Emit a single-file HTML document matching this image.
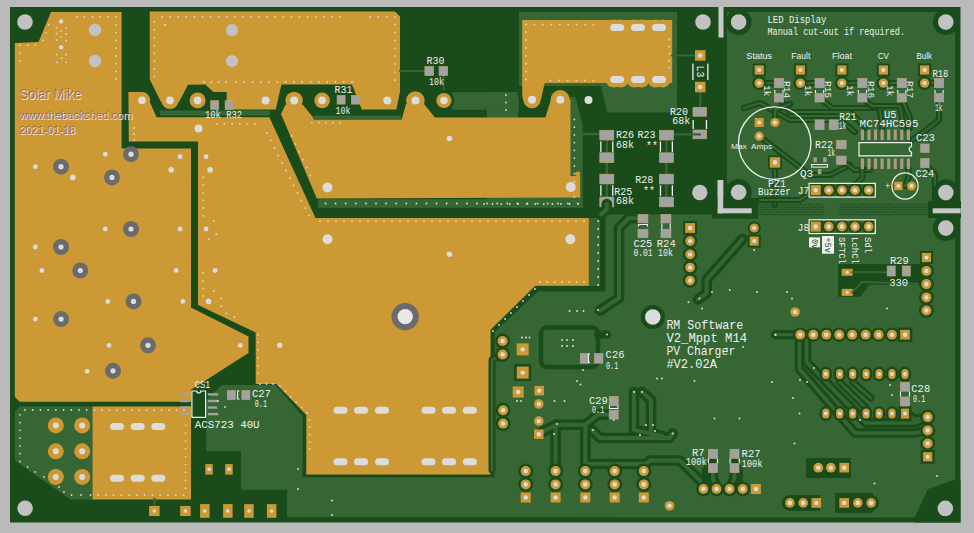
<!DOCTYPE html>
<html><head><meta charset="utf-8"><style>
html,body{margin:0;padding:0;background:#bababa;width:974px;height:533px;overflow:hidden}
svg{display:block}
text{white-space:pre}
</style></head><body><svg width="974" height="533" viewBox="0 0 974 533"><rect x="0.0" y="0.0" width="974.0" height="533.0" fill="#bababa" /><rect x="10.0" y="7.0" width="950.5" height="515.5" fill="#1a4b1b" /><polygon points="727.0,12.0 955.0,12.0 955.0,216.0 727.0,216.0" fill="#356634" /><polygon points="605.5,214.5 955.0,214.5 955.0,479.5 927.7,489.5 914.6,517.5 287.1,517.2 287.1,489.8 241.0,489.8 241.0,451.1 206.1,451.1 206.1,400.0 221.9,385.0 275.4,385.0 302.6,416.0 302.6,477.3 494.5,477.3 494.5,332.0 538.0,291.5 605.5,291.5" fill="#356634" /><polygon points="519.0,12.0 677.0,12.0 677.0,112.5 607.5,112.5 600.8,86.0 519.0,86.0" fill="#356634" /><polygon points="487.0,92.0 517.0,92.0 519.0,100.0 518.0,117.5 545.4,117.5 551.0,99.0 570.5,97.0 575.4,97.0 582.7,125.0 582.7,207.0 487.0,207.0" fill="#356634" /><polygon points="487.0,218.0 600.0,218.0 600.0,286.0 535.0,286.0 491.0,330.0 487.0,334.0" fill="#356634" /><polygon points="19.5,406.5 92.5,406.5 92.5,499.5 70.4,499.5 14.8,460.6 14.8,411.5" fill="#356634" /><polygon points="51.0,12.0 121.6,12.0 121.6,148.5 191.0,148.5 191.0,307.6 248.5,336.5 248.5,353.1 191.0,389.7 191.0,401.8 19.5,401.8 14.8,396.7 14.8,43.0 38.5,42.0" fill="#cd9934" /><polygon points="149.7,11.6 395.0,11.6 400.0,16.6 400.0,91.5 396.4,109.5 361.8,109.5 352.0,84.6 281.4,84.6 275.8,109.5 226.7,109.5 226.7,92.0 213.4,92.0 205.3,84.6 188.0,84.7 179.0,102.0 161.0,102.0 149.8,79.6" fill="#cd9934" /><circle cx="170.0" cy="100.4" r="8.6" fill="#cd9934" /><polygon points="128.4,92.0 141.9,92.0 150.4,103.2 156.6,117.3 269.4,117.3 315.5,218.0 588.8,218.0 588.8,285.8 535.3,285.8 490.6,329.4 490.6,474.4 306.3,474.4 306.3,415.0 276.3,384.0 255.7,384.0 255.7,332.5 198.0,305.0 198.0,141.6 128.8,141.6" fill="#cd9934" /><circle cx="141.9" cy="100.4" r="8.4" fill="#cd9934" /><polygon points="281.0,114.0 285.4,104.7 302.8,104.7 314.8,119.4 401.7,119.5 406.0,104.0 424.0,104.0 435.0,117.5 545.4,117.5 551.0,99.4 570.5,99.4 570.5,176.0 580.2,176.0 580.2,197.5 316.8,198.5" fill="#cd9934" /><circle cx="294.1" cy="100.4" r="8.7" fill="#cd9934" /><circle cx="415.4" cy="100.5" r="9.3" fill="#cd9934" /><circle cx="560.1" cy="99.4" r="9.4" fill="#cd9934" /><circle cx="577.8" cy="174.1" r="2.5" fill="#cd9934" /><polygon points="522.2,20.0 672.2,20.0 672.2,83.1 544.7,83.1 541.0,99.6 523.0,99.6 522.2,95.0" fill="#cd9934" /><circle cx="532.0" cy="99.6" r="8.7" fill="#cd9934" /><polygon points="92.5,406.5 191.0,406.5 191.0,499.5 92.5,499.5" fill="#cd9934" /><polyline points="400.0,71.0 425.0,71.0" fill="none" stroke="#356634" stroke-width="2.2" stroke-linejoin="round" stroke-linecap="round" /><polyline points="443.6,71.0 443.6,93.0" fill="none" stroke="#356634" stroke-width="2.2" stroke-linejoin="round" stroke-linecap="round" /><polygon points="452.0,92.3 500.0,92.3 500.0,109.7 452.0,109.7" fill="#356634" rx="4"/><circle cx="443.9" cy="100.5" r="10.5" fill="#1a4b1b" /><rect x="160.0" y="110.5" width="110.0" height="5.0" fill="#356634" /><rect x="313.0" y="115.5" width="88.0" height="4.0" fill="#356634" /><circle cx="25.0" cy="22.0" r="7.8" fill="#c2c2c2" /><circle cx="95.0" cy="30.0" r="6.2" fill="#c2c2c2" /><circle cx="95.0" cy="61.0" r="6.2" fill="#c2c2c2" /><circle cx="232.0" cy="30.0" r="6.1" fill="#c2c2c2" /><circle cx="232.0" cy="61.0" r="6.1" fill="#c2c2c2" /><circle cx="76.8" cy="16.9" r="0.9" fill="#d8d8d8" /><circle cx="84.4" cy="16.9" r="0.9" fill="#d8d8d8" /><circle cx="92.5" cy="16.9" r="0.9" fill="#d8d8d8" /><circle cx="100.0" cy="16.9" r="0.9" fill="#d8d8d8" /><circle cx="108.0" cy="16.9" r="0.9" fill="#d8d8d8" /><circle cx="115.8" cy="16.9" r="0.9" fill="#d8d8d8" /><circle cx="115.8" cy="24.8" r="0.9" fill="#d8d8d8" /><circle cx="115.8" cy="32.6" r="0.9" fill="#d8d8d8" /><circle cx="115.8" cy="40.3" r="0.9" fill="#d8d8d8" /><circle cx="115.8" cy="48.1" r="0.9" fill="#d8d8d8" /><circle cx="115.8" cy="55.9" r="0.9" fill="#d8d8d8" /><circle cx="115.8" cy="63.6" r="0.9" fill="#d8d8d8" /><circle cx="115.8" cy="71.4" r="0.9" fill="#d8d8d8" /><circle cx="115.8" cy="79.0" r="0.9" fill="#d8d8d8" /><circle cx="48.6" cy="24.8" r="0.9" fill="#d8d8d8" /><circle cx="45.9" cy="32.6" r="0.9" fill="#d8d8d8" /><circle cx="43.2" cy="40.3" r="0.9" fill="#d8d8d8" /><circle cx="19.9" cy="45.2" r="0.9" fill="#d8d8d8" /><circle cx="27.8" cy="45.2" r="0.9" fill="#d8d8d8" /><circle cx="35.4" cy="45.2" r="0.9" fill="#d8d8d8" /><circle cx="19.9" cy="53.2" r="0.9" fill="#d8d8d8" /><circle cx="19.9" cy="60.9" r="0.9" fill="#d8d8d8" /><circle cx="61.1" cy="21.4" r="2.2" fill="#d8d8d8" /><circle cx="61.1" cy="47.3" r="2.2" fill="#d8d8d8" /><circle cx="56.5" cy="27.8" r="0.9" fill="#d8d8d8" /><circle cx="66.2" cy="27.8" r="0.9" fill="#d8d8d8" /><circle cx="61.1" cy="30.9" r="0.9" fill="#d8d8d8" /><circle cx="56.5" cy="33.8" r="0.9" fill="#d8d8d8" /><circle cx="66.2" cy="33.8" r="0.9" fill="#d8d8d8" /><circle cx="61.1" cy="36.8" r="0.9" fill="#d8d8d8" /><circle cx="56.5" cy="40.0" r="0.9" fill="#d8d8d8" /><circle cx="66.2" cy="40.5" r="0.9" fill="#d8d8d8" /><circle cx="56.5" cy="54.5" r="0.9" fill="#d8d8d8" /><circle cx="66.2" cy="54.5" r="0.9" fill="#d8d8d8" /><circle cx="61.6" cy="58.2" r="0.9" fill="#d8d8d8" /><circle cx="57.0" cy="62.3" r="0.9" fill="#d8d8d8" /><circle cx="66.2" cy="62.3" r="0.9" fill="#d8d8d8" /><circle cx="154.4" cy="21.9" r="0.9" fill="#d8d8d8" /><circle cx="154.4" cy="29.9" r="0.9" fill="#d8d8d8" /><circle cx="154.4" cy="37.6" r="0.9" fill="#d8d8d8" /><circle cx="154.4" cy="45.6" r="0.9" fill="#d8d8d8" /><circle cx="154.4" cy="53.3" r="0.9" fill="#d8d8d8" /><circle cx="154.4" cy="61.1" r="0.9" fill="#d8d8d8" /><circle cx="154.4" cy="68.9" r="0.9" fill="#d8d8d8" /><circle cx="154.4" cy="76.5" r="0.9" fill="#d8d8d8" /><circle cx="162.0" cy="16.9" r="0.9" fill="#d8d8d8" /><circle cx="170.1" cy="16.9" r="0.9" fill="#d8d8d8" /><circle cx="178.2" cy="16.9" r="0.9" fill="#d8d8d8" /><circle cx="186.3" cy="16.9" r="0.9" fill="#d8d8d8" /><circle cx="194.4" cy="16.9" r="0.9" fill="#d8d8d8" /><circle cx="202.5" cy="16.9" r="0.9" fill="#d8d8d8" /><circle cx="210.5" cy="16.9" r="0.9" fill="#d8d8d8" /><circle cx="218.6" cy="16.9" r="0.9" fill="#d8d8d8" /><circle cx="226.7" cy="16.9" r="0.9" fill="#d8d8d8" /><circle cx="234.8" cy="16.9" r="0.9" fill="#d8d8d8" /><circle cx="242.9" cy="16.9" r="0.9" fill="#d8d8d8" /><circle cx="251.0" cy="16.9" r="0.9" fill="#d8d8d8" /><circle cx="259.1" cy="16.9" r="0.9" fill="#d8d8d8" /><circle cx="267.2" cy="16.9" r="0.9" fill="#d8d8d8" /><circle cx="275.3" cy="16.9" r="0.9" fill="#d8d8d8" /><circle cx="283.4" cy="16.9" r="0.9" fill="#d8d8d8" /><circle cx="291.5" cy="16.9" r="0.9" fill="#d8d8d8" /><circle cx="299.5" cy="16.9" r="0.9" fill="#d8d8d8" /><circle cx="307.6" cy="16.9" r="0.9" fill="#d8d8d8" /><circle cx="315.7" cy="16.9" r="0.9" fill="#d8d8d8" /><circle cx="323.8" cy="16.9" r="0.9" fill="#d8d8d8" /><circle cx="331.9" cy="16.9" r="0.9" fill="#d8d8d8" /><circle cx="340.0" cy="16.9" r="0.9" fill="#d8d8d8" /><circle cx="370.0" cy="16.9" r="0.9" fill="#d8d8d8" /><circle cx="378.3" cy="16.9" r="0.9" fill="#d8d8d8" /><circle cx="386.7" cy="16.9" r="0.9" fill="#d8d8d8" /><circle cx="395.0" cy="16.9" r="0.9" fill="#d8d8d8" /><circle cx="395.0" cy="24.5" r="0.9" fill="#d8d8d8" /><circle cx="395.0" cy="32.4" r="0.9" fill="#d8d8d8" /><circle cx="395.0" cy="40.4" r="0.9" fill="#d8d8d8" /><circle cx="395.0" cy="48.3" r="0.9" fill="#d8d8d8" /><circle cx="395.0" cy="56.2" r="0.9" fill="#d8d8d8" /><circle cx="395.0" cy="64.1" r="0.9" fill="#d8d8d8" /><circle cx="395.0" cy="72.1" r="0.9" fill="#d8d8d8" /><circle cx="395.0" cy="80.0" r="0.9" fill="#d8d8d8" /><circle cx="165.0" cy="25.0" r="0.9" fill="#d8d8d8" /><circle cx="165.0" cy="25.0" r="0.9" fill="#d8d8d8" /><circle cx="204.0" cy="82.0" r="0.9" fill="#d8d8d8" /><circle cx="211.3" cy="82.0" r="0.9" fill="#d8d8d8" /><circle cx="218.7" cy="82.0" r="0.9" fill="#d8d8d8" /><circle cx="226.0" cy="82.0" r="0.9" fill="#d8d8d8" /><circle cx="236.0" cy="82.0" r="0.9" fill="#d8d8d8" /><circle cx="244.3" cy="82.0" r="0.9" fill="#d8d8d8" /><circle cx="252.6" cy="82.0" r="0.9" fill="#d8d8d8" /><circle cx="260.9" cy="82.0" r="0.9" fill="#d8d8d8" /><circle cx="269.1" cy="82.0" r="0.9" fill="#d8d8d8" /><circle cx="277.4" cy="82.0" r="0.9" fill="#d8d8d8" /><circle cx="285.7" cy="82.0" r="0.9" fill="#d8d8d8" /><circle cx="294.0" cy="82.0" r="0.9" fill="#d8d8d8" /><circle cx="302.3" cy="82.0" r="0.9" fill="#d8d8d8" /><circle cx="310.6" cy="82.0" r="0.9" fill="#d8d8d8" /><circle cx="318.9" cy="82.0" r="0.9" fill="#d8d8d8" /><circle cx="327.1" cy="82.0" r="0.9" fill="#d8d8d8" /><circle cx="335.4" cy="82.0" r="0.9" fill="#d8d8d8" /><circle cx="343.7" cy="82.0" r="0.9" fill="#d8d8d8" /><circle cx="352.0" cy="82.0" r="0.9" fill="#d8d8d8" /><circle cx="142.0" cy="100.4" r="0.0" fill="#cd9934" /><circle cx="142.0" cy="100.4" r="3.8" fill="#dcdcdc" /><circle cx="170.0" cy="100.4" r="0.0" fill="#cd9934" /><circle cx="170.0" cy="100.4" r="3.8" fill="#dcdcdc" /><circle cx="197.6" cy="100.4" r="8.0" fill="#cd9934" /><circle cx="197.6" cy="100.4" r="3.8" fill="#dcdcdc" /><circle cx="322.1" cy="100.4" r="7.8" fill="#cd9934" /><circle cx="322.1" cy="100.4" r="3.8" fill="#dcdcdc" /><circle cx="265.7" cy="100.5" r="4.0" fill="#dcdcdc" /><circle cx="294.1" cy="100.4" r="4.0" fill="#dcdcdc" /><circle cx="387.3" cy="100.5" r="4.0" fill="#dcdcdc" /><circle cx="415.5" cy="100.5" r="4.0" fill="#dcdcdc" /><circle cx="443.9" cy="100.5" r="7.6" fill="#cd9934" /><circle cx="443.9" cy="100.5" r="3.8" fill="#dcdcdc" /><circle cx="532.1" cy="99.7" r="4.0" fill="#dcdcdc" /><circle cx="560.3" cy="99.7" r="4.0" fill="#dcdcdc" /><circle cx="588.5" cy="100.0" r="4.0" fill="#dcdcdc" /><circle cx="198.5" cy="128.5" r="4.0" fill="#dcdcdc" /><circle cx="312.0" cy="122.6" r="0.9" fill="#d8d8d8" /><circle cx="319.0" cy="122.6" r="0.9" fill="#d8d8d8" /><circle cx="326.0" cy="122.6" r="0.9" fill="#d8d8d8" /><circle cx="333.0" cy="122.6" r="0.9" fill="#d8d8d8" /><circle cx="340.0" cy="122.6" r="0.9" fill="#d8d8d8" /><circle cx="216.8" cy="123.7" r="0.9" fill="#d8d8d8" /><circle cx="224.4" cy="123.7" r="0.9" fill="#d8d8d8" /><circle cx="232.1" cy="123.7" r="0.9" fill="#d8d8d8" /><circle cx="239.7" cy="123.7" r="0.9" fill="#d8d8d8" /><circle cx="247.4" cy="123.7" r="0.9" fill="#d8d8d8" /><circle cx="255.0" cy="123.7" r="0.9" fill="#d8d8d8" /><rect x="210.7" y="100.7" width="8.0" height="8.7" fill="#a2a2a2" stroke="#bfa477" stroke-width="0.7"/><rect x="225.1" y="100.7" width="8.0" height="8.7" fill="#a2a2a2" stroke="#bfa477" stroke-width="0.7"/><rect x="337.1" y="95.4" width="8.0" height="8.7" fill="#a2a2a2" stroke="#bfa477" stroke-width="0.7"/><rect x="351.4" y="95.4" width="8.0" height="8.7" fill="#a2a2a2" stroke="#bfa477" stroke-width="0.7"/><rect x="424.9" y="66.5" width="8.5" height="9.0" fill="#a2a2a2" stroke="#bfa477" stroke-width="0.7"/><rect x="439.1" y="66.5" width="8.5" height="9.0" fill="#a2a2a2" stroke="#bfa477" stroke-width="0.7"/><text x="205.0" y="117.6" font-size="10.0" fill="#f0f0f0" font-family="Liberation Mono"  textLength="37.1" lengthAdjust="spacingAndGlyphs">10k R32</text><text x="334.5" y="92.8" font-size="10.0" fill="#f0f0f0" font-family="Liberation Mono" >R31</text><text x="335.5" y="113.5" font-size="10.0" fill="#f0f0f0" font-family="Liberation Mono"  textLength="14.9" lengthAdjust="spacingAndGlyphs">10k</text><text x="426.5" y="63.6" font-size="10.0" fill="#f0f0f0" font-family="Liberation Mono" >R30</text><text x="429.0" y="84.8" font-size="10.0" fill="#f0f0f0" font-family="Liberation Mono"  textLength="14.9" lengthAdjust="spacingAndGlyphs">10k</text><text x="20.2" y="99.9" font-size="14.0" fill="#f6ecea" font-family="Liberation Sans" textLength="61.8" lengthAdjust="spacingAndGlyphs">Solar Mike</text><text x="19.4" y="99.2" font-size="14.0" fill="#6a3a5a" font-family="Liberation Sans" textLength="61.8" lengthAdjust="spacingAndGlyphs" opacity="0.55">Solar Mike</text><text x="20.2" y="119.9" font-size="11.7" fill="#f6ecea" font-family="Liberation Sans" textLength="112.9" lengthAdjust="spacingAndGlyphs">www.thebackshed.com</text><text x="19.4" y="119.2" font-size="11.7" fill="#6a3a5a" font-family="Liberation Sans" textLength="112.9" lengthAdjust="spacingAndGlyphs" opacity="0.55">www.thebackshed.com</text><text x="20.2" y="135.0" font-size="11.8" fill="#f6ecea" font-family="Liberation Sans" textLength="55.8" lengthAdjust="spacingAndGlyphs">2021-01-18</text><text x="19.4" y="134.3" font-size="11.8" fill="#6a3a5a" font-family="Liberation Sans" textLength="55.8" lengthAdjust="spacingAndGlyphs" opacity="0.55">2021-01-18</text><circle cx="61.0" cy="166.7" r="8.0" fill="#6b6b6b" /><circle cx="61.0" cy="166.7" r="2.6" fill="#dcdcdc" /><circle cx="112.0" cy="177.4" r="8.0" fill="#6b6b6b" /><circle cx="112.0" cy="177.4" r="2.6" fill="#dcdcdc" /><circle cx="131.0" cy="154.2" r="8.0" fill="#6b6b6b" /><circle cx="131.0" cy="154.2" r="2.6" fill="#dcdcdc" /><circle cx="131.0" cy="229.0" r="8.0" fill="#6b6b6b" /><circle cx="131.0" cy="229.0" r="2.6" fill="#dcdcdc" /><circle cx="61.0" cy="247.0" r="8.0" fill="#6b6b6b" /><circle cx="61.0" cy="247.0" r="2.6" fill="#dcdcdc" /><circle cx="80.3" cy="270.5" r="8.0" fill="#6b6b6b" /><circle cx="80.3" cy="270.5" r="2.6" fill="#dcdcdc" /><circle cx="133.5" cy="301.4" r="8.0" fill="#6b6b6b" /><circle cx="133.5" cy="301.4" r="2.6" fill="#dcdcdc" /><circle cx="61.1" cy="319.1" r="8.0" fill="#6b6b6b" /><circle cx="61.1" cy="319.1" r="2.6" fill="#dcdcdc" /><circle cx="148.0" cy="345.3" r="8.0" fill="#6b6b6b" /><circle cx="148.0" cy="345.3" r="2.6" fill="#dcdcdc" /><circle cx="113.0" cy="370.8" r="8.0" fill="#6b6b6b" /><circle cx="113.0" cy="370.8" r="2.6" fill="#dcdcdc" /><circle cx="35.4" cy="166.7" r="2.4" fill="#dcdcdc" /><circle cx="72.8" cy="177.4" r="2.8" fill="#dcdcdc" /><circle cx="105.3" cy="154.2" r="2.4" fill="#dcdcdc" /><circle cx="180.1" cy="156.7" r="2.4" fill="#dcdcdc" /><circle cx="171.2" cy="169.7" r="2.8" fill="#dcdcdc" /><circle cx="206.1" cy="156.7" r="2.4" fill="#dcdcdc" /><circle cx="210.1" cy="169.7" r="2.8" fill="#dcdcdc" /><circle cx="105.3" cy="229.0" r="2.4" fill="#dcdcdc" /><circle cx="180.1" cy="229.0" r="2.4" fill="#dcdcdc" /><circle cx="206.1" cy="229.0" r="2.4" fill="#dcdcdc" /><circle cx="35.4" cy="247.0" r="2.4" fill="#dcdcdc" /><circle cx="41.9" cy="270.5" r="2.4" fill="#dcdcdc" /><circle cx="176.1" cy="270.5" r="2.4" fill="#dcdcdc" /><circle cx="215.1" cy="270.5" r="2.4" fill="#dcdcdc" /><circle cx="107.8" cy="301.4" r="2.4" fill="#dcdcdc" /><circle cx="182.9" cy="301.4" r="2.4" fill="#dcdcdc" /><circle cx="208.6" cy="301.4" r="2.8" fill="#dcdcdc" /><circle cx="35.4" cy="319.1" r="2.4" fill="#dcdcdc" /><circle cx="109.0" cy="345.3" r="2.4" fill="#dcdcdc" /><circle cx="240.3" cy="345.3" r="2.4" fill="#dcdcdc" /><circle cx="87.1" cy="371.3" r="2.4" fill="#dcdcdc" /><circle cx="203.4" cy="177.4" r="0.9" fill="#d8d8d8" /><circle cx="203.4" cy="184.9" r="0.9" fill="#d8d8d8" /><circle cx="203.4" cy="192.9" r="0.9" fill="#d8d8d8" /><circle cx="203.4" cy="200.4" r="0.9" fill="#d8d8d8" /><circle cx="203.4" cy="207.9" r="0.9" fill="#d8d8d8" /><circle cx="203.4" cy="215.8" r="0.9" fill="#d8d8d8" /><circle cx="213.8" cy="220.8" r="0.9" fill="#d8d8d8" /><circle cx="216.3" cy="234.0" r="0.9" fill="#d8d8d8" /><circle cx="208.8" cy="239.0" r="0.9" fill="#d8d8d8" /><circle cx="203.3" cy="273.0" r="0.9" fill="#d8d8d8" /><circle cx="203.3" cy="281.0" r="0.9" fill="#d8d8d8" /><circle cx="203.3" cy="288.5" r="0.9" fill="#d8d8d8" /><circle cx="203.3" cy="296.0" r="0.9" fill="#d8d8d8" /><circle cx="213.8" cy="291.0" r="0.9" fill="#d8d8d8" /><circle cx="221.3" cy="298.4" r="0.9" fill="#d8d8d8" /><circle cx="221.3" cy="306.0" r="0.9" fill="#d8d8d8" /><circle cx="226.5" cy="313.4" r="0.9" fill="#d8d8d8" /><circle cx="234.5" cy="317.0" r="0.9" fill="#d8d8d8" /><circle cx="134.0" cy="128.0" r="0.9" fill="#d8d8d8" /><circle cx="134.0" cy="134.0" r="0.9" fill="#d8d8d8" /><circle cx="134.0" cy="140.0" r="0.9" fill="#d8d8d8" /><circle cx="266.8" cy="133.0" r="0.9" fill="#d8d8d8" /><circle cx="270.6" cy="140.5" r="0.9" fill="#d8d8d8" /><circle cx="274.4" cy="148.0" r="0.9" fill="#d8d8d8" /><circle cx="278.3" cy="155.5" r="0.9" fill="#d8d8d8" /><circle cx="282.1" cy="163.0" r="0.9" fill="#d8d8d8" /><circle cx="286.0" cy="170.5" r="0.9" fill="#d8d8d8" /><circle cx="289.8" cy="178.0" r="0.9" fill="#d8d8d8" /><circle cx="293.6" cy="185.5" r="0.9" fill="#d8d8d8" /><circle cx="297.5" cy="193.0" r="0.9" fill="#d8d8d8" /><circle cx="301.3" cy="200.5" r="0.9" fill="#d8d8d8" /><circle cx="305.2" cy="208.0" r="0.9" fill="#d8d8d8" /><circle cx="309.0" cy="215.5" r="0.9" fill="#d8d8d8" /><circle cx="291.7" cy="136.0" r="0.9" fill="#d8d8d8" /><circle cx="295.4" cy="143.9" r="0.9" fill="#d8d8d8" /><circle cx="299.2" cy="151.8" r="0.9" fill="#d8d8d8" /><circle cx="302.9" cy="159.7" r="0.9" fill="#d8d8d8" /><circle cx="306.7" cy="167.6" r="0.9" fill="#d8d8d8" /><circle cx="310.4" cy="175.5" r="0.9" fill="#d8d8d8" /><circle cx="320.0" cy="221.0" r="0.9" fill="#d8d8d8" /><circle cx="328.0" cy="221.0" r="0.9" fill="#d8d8d8" /><circle cx="336.0" cy="221.0" r="0.9" fill="#d8d8d8" /><circle cx="344.0" cy="221.0" r="0.9" fill="#d8d8d8" /><circle cx="352.0" cy="221.0" r="0.9" fill="#d8d8d8" /><circle cx="360.0" cy="221.0" r="0.9" fill="#d8d8d8" /><circle cx="368.0" cy="221.0" r="0.9" fill="#d8d8d8" /><circle cx="376.0" cy="221.0" r="0.9" fill="#d8d8d8" /><circle cx="384.0" cy="221.0" r="0.9" fill="#d8d8d8" /><circle cx="392.0" cy="221.0" r="0.9" fill="#d8d8d8" /><circle cx="400.0" cy="221.0" r="0.9" fill="#d8d8d8" /><circle cx="408.0" cy="221.0" r="0.9" fill="#d8d8d8" /><circle cx="416.0" cy="221.0" r="0.9" fill="#d8d8d8" /><circle cx="424.0" cy="221.0" r="0.9" fill="#d8d8d8" /><circle cx="432.0" cy="221.0" r="0.9" fill="#d8d8d8" /><circle cx="440.0" cy="221.0" r="0.9" fill="#d8d8d8" /><circle cx="448.0" cy="221.0" r="0.9" fill="#d8d8d8" /><circle cx="456.0" cy="221.0" r="0.9" fill="#d8d8d8" /><circle cx="464.0" cy="221.0" r="0.9" fill="#d8d8d8" /><circle cx="472.0" cy="221.0" r="0.9" fill="#d8d8d8" /><circle cx="480.0" cy="221.0" r="0.9" fill="#d8d8d8" /><circle cx="488.0" cy="221.0" r="0.9" fill="#d8d8d8" /><circle cx="496.0" cy="221.0" r="0.9" fill="#d8d8d8" /><circle cx="504.0" cy="221.0" r="0.9" fill="#d8d8d8" /><circle cx="512.0" cy="221.0" r="0.9" fill="#d8d8d8" /><circle cx="520.0" cy="221.0" r="0.9" fill="#d8d8d8" /><circle cx="528.0" cy="221.0" r="0.9" fill="#d8d8d8" /><circle cx="536.0" cy="221.0" r="0.9" fill="#d8d8d8" /><circle cx="544.0" cy="221.0" r="0.9" fill="#d8d8d8" /><circle cx="552.0" cy="221.0" r="0.9" fill="#d8d8d8" /><circle cx="560.0" cy="221.0" r="0.9" fill="#d8d8d8" /><circle cx="568.0" cy="221.0" r="0.9" fill="#d8d8d8" /><circle cx="576.0" cy="221.0" r="0.9" fill="#d8d8d8" /><circle cx="584.0" cy="221.0" r="0.9" fill="#d8d8d8" /><circle cx="598.2" cy="221.0" r="0.9" fill="#d8d8d8" /><circle cx="598.2" cy="229.0" r="0.9" fill="#d8d8d8" /><circle cx="598.2" cy="237.0" r="0.9" fill="#d8d8d8" /><circle cx="598.2" cy="245.0" r="0.9" fill="#d8d8d8" /><circle cx="598.2" cy="253.0" r="0.9" fill="#d8d8d8" /><circle cx="598.2" cy="261.0" r="0.9" fill="#d8d8d8" /><circle cx="598.2" cy="269.0" r="0.9" fill="#d8d8d8" /><circle cx="598.2" cy="277.0" r="0.9" fill="#d8d8d8" /><circle cx="598.2" cy="285.0" r="0.9" fill="#d8d8d8" /><circle cx="540.0" cy="282.0" r="0.9" fill="#d8d8d8" /><circle cx="547.3" cy="282.0" r="0.9" fill="#d8d8d8" /><circle cx="554.7" cy="282.0" r="0.9" fill="#d8d8d8" /><circle cx="562.0" cy="282.0" r="0.9" fill="#d8d8d8" /><circle cx="569.3" cy="282.0" r="0.9" fill="#d8d8d8" /><circle cx="576.7" cy="282.0" r="0.9" fill="#d8d8d8" /><circle cx="584.0" cy="282.0" r="0.9" fill="#d8d8d8" /><circle cx="535.0" cy="289.0" r="0.9" fill="#d8d8d8" /><circle cx="529.0" cy="295.0" r="0.9" fill="#d8d8d8" /><circle cx="523.0" cy="301.0" r="0.9" fill="#d8d8d8" /><circle cx="517.0" cy="307.0" r="0.9" fill="#d8d8d8" /><circle cx="511.0" cy="313.0" r="0.9" fill="#d8d8d8" /><circle cx="505.0" cy="319.0" r="0.9" fill="#d8d8d8" /><circle cx="499.0" cy="325.0" r="0.9" fill="#d8d8d8" /><circle cx="493.0" cy="331.0" r="0.9" fill="#d8d8d8" /><circle cx="258.0" cy="334.6" r="0.9" fill="#d8d8d8" /><circle cx="258.0" cy="342.3" r="0.9" fill="#d8d8d8" /><circle cx="258.0" cy="350.1" r="0.9" fill="#d8d8d8" /><circle cx="258.0" cy="357.8" r="0.9" fill="#d8d8d8" /><circle cx="258.0" cy="365.6" r="0.9" fill="#d8d8d8" /><circle cx="258.0" cy="373.3" r="0.9" fill="#d8d8d8" /><circle cx="260.0" cy="384.0" r="0.9" fill="#d8d8d8" /><circle cx="266.5" cy="384.0" r="0.9" fill="#d8d8d8" /><circle cx="273.0" cy="384.0" r="0.9" fill="#d8d8d8" /><circle cx="280.0" cy="386.0" r="0.9" fill="#d8d8d8" /><circle cx="285.4" cy="391.4" r="0.9" fill="#d8d8d8" /><circle cx="290.8" cy="396.8" r="0.9" fill="#d8d8d8" /><circle cx="296.2" cy="402.2" r="0.9" fill="#d8d8d8" /><circle cx="301.6" cy="407.6" r="0.9" fill="#d8d8d8" /><circle cx="307.0" cy="413.0" r="0.9" fill="#d8d8d8" /><circle cx="309.6" cy="420.0" r="0.9" fill="#d8d8d8" /><circle cx="309.6" cy="427.2" r="0.9" fill="#d8d8d8" /><circle cx="309.6" cy="434.5" r="0.9" fill="#d8d8d8" /><circle cx="309.6" cy="441.8" r="0.9" fill="#d8d8d8" /><circle cx="309.6" cy="449.0" r="0.9" fill="#d8d8d8" /><circle cx="298.0" cy="469.0" r="1.0" fill="#d8d8d8" /><circle cx="298.0" cy="489.0" r="1.0" fill="#d8d8d8" /><circle cx="332.0" cy="500.5" r="1.0" fill="#d8d8d8" /><circle cx="332.0" cy="515.0" r="1.0" fill="#d8d8d8" /><rect x="318.0" y="199.2" width="265.0" height="8.6" fill="#356634" /><circle cx="325.5" cy="203.5" r="0.9" fill="#d8d8d8" /><circle cx="335.6" cy="203.5" r="0.9" fill="#d8d8d8" /><circle cx="345.7" cy="203.5" r="0.9" fill="#d8d8d8" /><circle cx="355.8" cy="203.5" r="0.9" fill="#d8d8d8" /><circle cx="365.9" cy="203.5" r="0.9" fill="#d8d8d8" /><circle cx="376.0" cy="203.5" r="0.9" fill="#d8d8d8" /><circle cx="386.1" cy="203.5" r="0.9" fill="#d8d8d8" /><circle cx="396.2" cy="203.5" r="0.9" fill="#d8d8d8" /><circle cx="406.3" cy="203.5" r="0.9" fill="#d8d8d8" /><circle cx="416.4" cy="203.5" r="0.9" fill="#d8d8d8" /><circle cx="426.5" cy="203.5" r="0.9" fill="#d8d8d8" /><circle cx="436.6" cy="203.5" r="0.9" fill="#d8d8d8" /><circle cx="446.7" cy="203.5" r="0.9" fill="#d8d8d8" /><circle cx="456.8" cy="203.5" r="0.9" fill="#d8d8d8" /><circle cx="466.9" cy="203.5" r="0.9" fill="#d8d8d8" /><circle cx="477.0" cy="203.5" r="0.9" fill="#d8d8d8" /><circle cx="487.1" cy="203.5" r="0.9" fill="#d8d8d8" /><circle cx="497.2" cy="203.5" r="0.9" fill="#d8d8d8" /><circle cx="507.3" cy="203.5" r="0.9" fill="#d8d8d8" /><circle cx="517.4" cy="203.5" r="0.9" fill="#d8d8d8" /><circle cx="527.5" cy="203.5" r="0.9" fill="#d8d8d8" /><circle cx="537.6" cy="203.5" r="0.9" fill="#d8d8d8" /><circle cx="547.7" cy="203.5" r="0.9" fill="#d8d8d8" /><circle cx="557.8" cy="203.5" r="0.9" fill="#d8d8d8" /><circle cx="567.9" cy="203.5" r="0.9" fill="#d8d8d8" /><circle cx="578.0" cy="203.5" r="0.9" fill="#d8d8d8" /><circle cx="484.0" cy="204.0" r="0.9" fill="#d8d8d8" /><circle cx="492.5" cy="204.0" r="0.9" fill="#d8d8d8" /><circle cx="501.1" cy="204.0" r="0.9" fill="#d8d8d8" /><circle cx="509.6" cy="204.0" r="0.9" fill="#d8d8d8" /><circle cx="518.2" cy="204.0" r="0.9" fill="#d8d8d8" /><circle cx="526.7" cy="204.0" r="0.9" fill="#d8d8d8" /><circle cx="535.3" cy="204.0" r="0.9" fill="#d8d8d8" /><circle cx="543.8" cy="204.0" r="0.9" fill="#d8d8d8" /><circle cx="552.4" cy="204.0" r="0.9" fill="#d8d8d8" /><circle cx="560.9" cy="204.0" r="0.9" fill="#d8d8d8" /><circle cx="569.5" cy="204.0" r="0.9" fill="#d8d8d8" /><circle cx="578.0" cy="204.0" r="0.9" fill="#d8d8d8" /><circle cx="574.4" cy="119.4" r="0.9" fill="#d8d8d8" /><circle cx="574.4" cy="127.2" r="0.9" fill="#d8d8d8" /><circle cx="574.4" cy="134.9" r="0.9" fill="#d8d8d8" /><circle cx="574.4" cy="142.7" r="0.9" fill="#d8d8d8" /><circle cx="574.4" cy="150.4" r="0.9" fill="#d8d8d8" /><circle cx="574.4" cy="158.2" r="0.9" fill="#d8d8d8" /><circle cx="574.4" cy="166.0" r="0.9" fill="#d8d8d8" /><circle cx="574.4" cy="173.7" r="0.9" fill="#d8d8d8" /><circle cx="574.4" cy="181.5" r="0.9" fill="#d8d8d8" /><circle cx="574.4" cy="189.2" r="0.9" fill="#d8d8d8" /><circle cx="574.4" cy="197.0" r="0.9" fill="#d8d8d8" /><circle cx="327.5" cy="187.5" r="5.0" fill="#dcdcdc" /><circle cx="327.5" cy="239.2" r="5.0" fill="#dcdcdc" /><circle cx="449.5" cy="138.5" r="2.7" fill="#dcdcdc" /><circle cx="449.5" cy="254.2" r="2.7" fill="#dcdcdc" /><circle cx="570.7" cy="187.0" r="5.0" fill="#dcdcdc" /><circle cx="570.3" cy="239.3" r="5.0" fill="#dcdcdc" /><circle cx="405.2" cy="316.6" r="13.7" fill="#6b6b6b" /><circle cx="405.2" cy="316.6" r="7.7" fill="#e8e8e8" /><circle cx="279.7" cy="345.3" r="2.7" fill="#dcdcdc" /><rect x="333.5" y="406.8" width="14.0" height="7.0" rx="3.5" fill="#dcdcdc"/><rect x="333.5" y="458.3" width="14.0" height="7.0" rx="3.5" fill="#dcdcdc"/><rect x="354.1" y="406.8" width="14.0" height="7.0" rx="3.5" fill="#dcdcdc"/><rect x="354.1" y="458.3" width="14.0" height="7.0" rx="3.5" fill="#dcdcdc"/><rect x="375.0" y="406.8" width="14.0" height="7.0" rx="3.5" fill="#dcdcdc"/><rect x="375.0" y="458.3" width="14.0" height="7.0" rx="3.5" fill="#dcdcdc"/><rect x="421.5" y="406.8" width="14.0" height="7.0" rx="3.5" fill="#dcdcdc"/><rect x="421.5" y="458.3" width="14.0" height="7.0" rx="3.5" fill="#dcdcdc"/><rect x="442.1" y="406.8" width="14.0" height="7.0" rx="3.5" fill="#dcdcdc"/><rect x="442.1" y="458.3" width="14.0" height="7.0" rx="3.5" fill="#dcdcdc"/><rect x="462.9" y="406.8" width="14.0" height="7.0" rx="3.5" fill="#dcdcdc"/><rect x="462.9" y="458.3" width="14.0" height="7.0" rx="3.5" fill="#dcdcdc"/><circle cx="613.7" cy="27.5" r="8.0" fill="#cd9934" /><circle cx="620.7" cy="27.5" r="8.0" fill="#cd9934" /><circle cx="613.7" cy="79.5" r="8.0" fill="#cd9934" /><circle cx="620.7" cy="79.5" r="8.0" fill="#cd9934" /><circle cx="634.5" cy="27.5" r="8.0" fill="#cd9934" /><circle cx="641.5" cy="27.5" r="8.0" fill="#cd9934" /><circle cx="634.5" cy="79.5" r="8.0" fill="#cd9934" /><circle cx="641.5" cy="79.5" r="8.0" fill="#cd9934" /><circle cx="655.5" cy="27.5" r="8.0" fill="#cd9934" /><circle cx="662.5" cy="27.5" r="8.0" fill="#cd9934" /><circle cx="655.5" cy="79.5" r="8.0" fill="#cd9934" /><circle cx="662.5" cy="79.5" r="8.0" fill="#cd9934" /><rect x="610.2" y="24.0" width="14.0" height="7.0" rx="3.5" fill="#dcdcdc"/><rect x="610.2" y="76.0" width="14.0" height="7.0" rx="3.5" fill="#dcdcdc"/><rect x="631.0" y="24.0" width="14.0" height="7.0" rx="3.5" fill="#dcdcdc"/><rect x="631.0" y="76.0" width="14.0" height="7.0" rx="3.5" fill="#dcdcdc"/><rect x="652.0" y="24.0" width="14.0" height="7.0" rx="3.5" fill="#dcdcdc"/><rect x="652.0" y="76.0" width="14.0" height="7.0" rx="3.5" fill="#dcdcdc"/><circle cx="526.0" cy="24.5" r="0.9" fill="#d8d8d8" /><circle cx="534.4" cy="24.5" r="0.9" fill="#d8d8d8" /><circle cx="542.9" cy="24.5" r="0.9" fill="#d8d8d8" /><circle cx="551.3" cy="24.5" r="0.9" fill="#d8d8d8" /><circle cx="559.8" cy="24.5" r="0.9" fill="#d8d8d8" /><circle cx="568.2" cy="24.5" r="0.9" fill="#d8d8d8" /><circle cx="576.6" cy="24.5" r="0.9" fill="#d8d8d8" /><circle cx="585.1" cy="24.5" r="0.9" fill="#d8d8d8" /><circle cx="593.5" cy="24.5" r="0.9" fill="#d8d8d8" /><circle cx="526.0" cy="32.0" r="0.9" fill="#d8d8d8" /><circle cx="526.0" cy="39.9" r="0.9" fill="#d8d8d8" /><circle cx="526.0" cy="47.8" r="0.9" fill="#d8d8d8" /><circle cx="526.0" cy="55.8" r="0.9" fill="#d8d8d8" /><circle cx="526.0" cy="63.7" r="0.9" fill="#d8d8d8" /><circle cx="526.0" cy="71.6" r="0.9" fill="#d8d8d8" /><circle cx="526.0" cy="79.5" r="0.9" fill="#d8d8d8" /><circle cx="550.5" cy="80.5" r="0.9" fill="#d8d8d8" /><circle cx="559.1" cy="80.5" r="0.9" fill="#d8d8d8" /><circle cx="567.7" cy="80.5" r="0.9" fill="#d8d8d8" /><circle cx="576.3" cy="80.5" r="0.9" fill="#d8d8d8" /><circle cx="584.9" cy="80.5" r="0.9" fill="#d8d8d8" /><circle cx="593.5" cy="80.5" r="0.9" fill="#d8d8d8" /><circle cx="669.2" cy="39.5" r="0.9" fill="#d8d8d8" /><circle cx="669.2" cy="46.5" r="0.9" fill="#d8d8d8" /><circle cx="669.2" cy="53.5" r="0.9" fill="#d8d8d8" /><circle cx="669.2" cy="60.5" r="0.9" fill="#d8d8d8" /><circle cx="669.2" cy="67.5" r="0.9" fill="#d8d8d8" /><circle cx="506.0" cy="95.0" r="0.9" fill="#d8d8d8" /><circle cx="506.0" cy="102.5" r="0.9" fill="#d8d8d8" /><circle cx="506.0" cy="110.0" r="0.9" fill="#d8d8d8" /><polyline points="672.0,55.5 700.0,55.5" fill="none" stroke="#356634" stroke-width="2.2" stroke-linejoin="round" stroke-linecap="round" /><polyline points="700.2,87.0 700.2,110.0" fill="none" stroke="#356634" stroke-width="2.2" stroke-linejoin="round" stroke-linecap="round" /><rect x="695.0" y="50.2" width="10.5" height="10.5" fill="#cd9934" /><circle cx="700.2" cy="55.5" r="2.3" fill="#dcdcdc" /><rect x="695.0" y="81.8" width="10.5" height="10.5" fill="#cd9934" /><circle cx="700.2" cy="87.0" r="2.3" fill="#dcdcdc" /><rect x="692.3" y="63.5" width="1.3" height="16.5" fill="#f0f0f0" /><rect x="707.2" y="63.5" width="1.3" height="16.5" fill="#f0f0f0" /><text x="0.0" y="0.0" font-size="10.0" fill="#f0f0f0" font-family="Liberation Mono" transform="translate(697,65.5) rotate(90)">L3</text><rect x="693.0" y="107.4" width="13.6" height="8.8" fill="#a2a2a2" stroke="#bfa477" stroke-width="0.7"/><rect x="693.0" y="130.0" width="13.6" height="8.8" fill="#a2a2a2" stroke="#bfa477" stroke-width="0.7"/><circle cx="703.0" cy="22.0" r="7.8" fill="#c2c2c2" /><rect x="718.5" y="7.0" width="5.0" height="30.5" fill="#c9c9c9" /><rect x="717.7" y="180.0" width="5.5" height="33.3" fill="#c9c9c9" /><rect x="717.7" y="208.3" width="34.0" height="5.0" fill="#c9c9c9" /><rect x="932.7" y="208.3" width="28.0" height="5.0" fill="#c9c9c9" /><text x="670.0" y="115.3" font-size="10.0" fill="#f0f0f0" font-family="Liberation Mono" >R20</text><text x="672.3" y="124.3" font-size="10.0" fill="#f0f0f0" font-family="Liberation Mono" >68k</text><polyline points="583.0,134.0 606.8,134.0" fill="none" stroke="#356634" stroke-width="2.4" stroke-linejoin="round" stroke-linecap="round" /><polyline points="606.8,135.0 606.8,202.0" fill="none" stroke="#356634" stroke-width="2.4" stroke-linejoin="round" stroke-linecap="round" /><polyline points="666.4,135.0 666.4,202.0" fill="none" stroke="#356634" stroke-width="2.4" stroke-linejoin="round" stroke-linecap="round" /><polyline points="666.4,134.4 699.8,134.4" fill="none" stroke="#356634" stroke-width="2.4" stroke-linejoin="round" stroke-linecap="round" /><rect x="599.8" y="130.3" width="14.0" height="9.7" fill="#a2a2a2" stroke="#bfa477" stroke-width="0.7"/><rect x="599.8" y="152.8" width="14.0" height="9.7" fill="#a2a2a2" stroke="#bfa477" stroke-width="0.7"/><rect x="600.2" y="141.4" width="1.3" height="10.5" fill="#f0f0f0" /><rect x="612.1" y="141.4" width="1.3" height="10.5" fill="#f0f0f0" /><rect x="599.8" y="174.2" width="14.0" height="9.7" fill="#a2a2a2" stroke="#bfa477" stroke-width="0.7"/><rect x="599.8" y="197.1" width="14.0" height="9.7" fill="#a2a2a2" stroke="#bfa477" stroke-width="0.7"/><rect x="600.2" y="185.3" width="1.3" height="10.5" fill="#f0f0f0" /><rect x="612.1" y="185.3" width="1.3" height="10.5" fill="#f0f0f0" /><rect x="659.4" y="130.3" width="14.0" height="9.7" fill="#a2a2a2" stroke="#bfa477" stroke-width="0.7"/><rect x="659.4" y="152.8" width="14.0" height="9.7" fill="#a2a2a2" stroke="#bfa477" stroke-width="0.7"/><rect x="659.8" y="141.4" width="1.3" height="10.5" fill="#f0f0f0" /><rect x="671.7" y="141.4" width="1.3" height="10.5" fill="#f0f0f0" /><rect x="659.4" y="174.2" width="14.0" height="9.7" fill="#a2a2a2" stroke="#bfa477" stroke-width="0.7"/><rect x="659.4" y="197.1" width="14.0" height="9.7" fill="#a2a2a2" stroke="#bfa477" stroke-width="0.7"/><rect x="659.8" y="185.3" width="1.3" height="10.5" fill="#f0f0f0" /><rect x="671.7" y="185.3" width="1.3" height="10.5" fill="#f0f0f0" /><rect x="692.5" y="120.0" width="1.3" height="9.0" fill="#f0f0f0" /><rect x="705.8" y="120.0" width="1.3" height="9.0" fill="#f0f0f0" /><text x="616.0" y="137.8" font-size="10.0" fill="#f0f0f0" font-family="Liberation Mono" >R26</text><text x="616.0" y="147.7" font-size="10.0" fill="#f0f0f0" font-family="Liberation Mono" >68k</text><text x="637.4" y="137.8" font-size="10.0" fill="#f0f0f0" font-family="Liberation Mono" >R23</text><text x="646.0" y="149.0" font-size="10.0" fill="#f0f0f0" font-family="Liberation Mono" >**</text><text x="635.2" y="183.3" font-size="10.0" fill="#f0f0f0" font-family="Liberation Mono" >R28</text><text x="643.0" y="194.0" font-size="10.0" fill="#f0f0f0" font-family="Liberation Mono" >**</text><text x="614.2" y="195.3" font-size="10.0" fill="#f0f0f0" font-family="Liberation Mono" >R25</text><text x="616.0" y="203.6" font-size="10.0" fill="#f0f0f0" font-family="Liberation Mono" >68k</text><circle cx="699.8" cy="192.5" r="7.7" fill="#c2c2c2" /><circle cx="738.6" cy="22.1" r="13.0" fill="#1a4b1b" /><circle cx="738.6" cy="22.1" r="7.8" fill="#c2c2c2" /><circle cx="945.8" cy="22.1" r="13.0" fill="#1a4b1b" /><circle cx="945.8" cy="22.1" r="7.8" fill="#c2c2c2" /><circle cx="738.6" cy="192.3" r="13.0" fill="#1a4b1b" /><circle cx="738.6" cy="192.3" r="7.8" fill="#c2c2c2" /><circle cx="945.8" cy="192.6" r="13.0" fill="#1a4b1b" /><circle cx="945.8" cy="192.6" r="7.8" fill="#c2c2c2" /><text x="767.5" y="23.4" font-size="10.4" fill="#f0f0f0" font-family="Liberation Mono"  textLength="58.9" lengthAdjust="spacingAndGlyphs">LED Display</text><text x="767.5" y="35.4" font-size="10.4" fill="#f0f0f0" font-family="Liberation Mono"  textLength="137.5" lengthAdjust="spacingAndGlyphs">Manual cut-out if required.</text><text x="759.2" y="59.0" font-size="8.2" fill="#f0f0f0" font-family="Liberation Sans" text-anchor="middle" textLength="25.7" lengthAdjust="spacingAndGlyphs">Status</text><text x="800.8" y="59.0" font-size="8.2" fill="#f0f0f0" font-family="Liberation Sans" text-anchor="middle" textLength="18.9" lengthAdjust="spacingAndGlyphs">Fault</text><text x="842.0" y="59.0" font-size="8.2" fill="#f0f0f0" font-family="Liberation Sans" text-anchor="middle" textLength="19.8" lengthAdjust="spacingAndGlyphs">Float</text><text x="883.3" y="59.0" font-size="8.2" fill="#f0f0f0" font-family="Liberation Sans" text-anchor="middle" textLength="11.3" lengthAdjust="spacingAndGlyphs">CV</text><text x="924.2" y="59.0" font-size="8.2" fill="#f0f0f0" font-family="Liberation Sans" text-anchor="middle" textLength="15.6" lengthAdjust="spacingAndGlyphs">Bulk</text><polyline points="759.2,83.1 778.9,83.1" fill="none" stroke="#1a4b1b" stroke-width="6.2" stroke-linejoin="round" stroke-linecap="round" /><polyline points="759.2,83.1 778.9,83.1" fill="none" stroke="#356634" stroke-width="2.2" stroke-linejoin="round" stroke-linecap="round" /><polyline points="800.4,83.1 819.6,83.1" fill="none" stroke="#1a4b1b" stroke-width="6.2" stroke-linejoin="round" stroke-linecap="round" /><polyline points="800.4,83.1 819.6,83.1" fill="none" stroke="#356634" stroke-width="2.2" stroke-linejoin="round" stroke-linecap="round" /><polyline points="841.9,83.1 862.4,83.1" fill="none" stroke="#1a4b1b" stroke-width="6.2" stroke-linejoin="round" stroke-linecap="round" /><polyline points="841.9,83.1 862.4,83.1" fill="none" stroke="#356634" stroke-width="2.2" stroke-linejoin="round" stroke-linecap="round" /><polyline points="883.4,83.1 901.8,83.1" fill="none" stroke="#1a4b1b" stroke-width="6.2" stroke-linejoin="round" stroke-linecap="round" /><polyline points="883.4,83.1 901.8,83.1" fill="none" stroke="#356634" stroke-width="2.2" stroke-linejoin="round" stroke-linecap="round" /><polyline points="924.6,83.1 939.1,83.1" fill="none" stroke="#1a4b1b" stroke-width="6.2" stroke-linejoin="round" stroke-linecap="round" /><polyline points="924.6,83.1 939.1,83.1" fill="none" stroke="#356634" stroke-width="2.2" stroke-linejoin="round" stroke-linecap="round" /><polyline points="778.9,98.0 790.0,112.0 850.0,112.0 866.0,128.0" fill="none" stroke="#1a4b1b" stroke-width="6.2" stroke-linejoin="round" stroke-linecap="round" /><polyline points="778.9,98.0 790.0,112.0 850.0,112.0 866.0,128.0" fill="none" stroke="#356634" stroke-width="2.2" stroke-linejoin="round" stroke-linecap="round" /><polyline points="819.6,98.0 832.0,108.0 880.0,108.0 882.0,128.0" fill="none" stroke="#1a4b1b" stroke-width="6.2" stroke-linejoin="round" stroke-linecap="round" /><polyline points="819.6,98.0 832.0,108.0 880.0,108.0 882.0,128.0" fill="none" stroke="#356634" stroke-width="2.2" stroke-linejoin="round" stroke-linecap="round" /><polyline points="862.4,98.0 872.0,106.0 900.0,106.0 904.0,128.0" fill="none" stroke="#1a4b1b" stroke-width="6.2" stroke-linejoin="round" stroke-linecap="round" /><polyline points="862.4,98.0 872.0,106.0 900.0,106.0 904.0,128.0" fill="none" stroke="#356634" stroke-width="2.2" stroke-linejoin="round" stroke-linecap="round" /><polyline points="901.8,98.0 910.0,118.0 910.0,128.0" fill="none" stroke="#1a4b1b" stroke-width="6.2" stroke-linejoin="round" stroke-linecap="round" /><polyline points="901.8,98.0 910.0,118.0 910.0,128.0" fill="none" stroke="#356634" stroke-width="2.2" stroke-linejoin="round" stroke-linecap="round" /><polyline points="939.1,98.0 939.0,120.0 920.0,135.0 912.0,140.0" fill="none" stroke="#1a4b1b" stroke-width="6.2" stroke-linejoin="round" stroke-linecap="round" /><polyline points="939.1,98.0 939.0,120.0 920.0,135.0 912.0,140.0" fill="none" stroke="#356634" stroke-width="2.2" stroke-linejoin="round" stroke-linecap="round" /><polyline points="744.0,108.0 760.0,103.0 790.0,120.0 840.0,120.0 855.0,132.0" fill="none" stroke="#1a4b1b" stroke-width="6.2" stroke-linejoin="round" stroke-linecap="round" /><polyline points="744.0,108.0 760.0,103.0 790.0,120.0 840.0,120.0 855.0,132.0" fill="none" stroke="#356634" stroke-width="2.2" stroke-linejoin="round" stroke-linecap="round" /><polyline points="775.0,122.5 775.0,110.0 790.0,104.0" fill="none" stroke="#1a4b1b" stroke-width="6.2" stroke-linejoin="round" stroke-linecap="round" /><polyline points="775.0,122.5 775.0,110.0 790.0,104.0" fill="none" stroke="#356634" stroke-width="2.2" stroke-linejoin="round" stroke-linecap="round" /><polyline points="759.2,136.2 810.0,175.0 830.0,175.0 850.0,165.0" fill="none" stroke="#1a4b1b" stroke-width="6.2" stroke-linejoin="round" stroke-linecap="round" /><polyline points="759.2,136.2 810.0,175.0 830.0,175.0 850.0,165.0" fill="none" stroke="#356634" stroke-width="2.2" stroke-linejoin="round" stroke-linecap="round" /><polyline points="775.0,162.4 775.0,205.0" fill="none" stroke="#1a4b1b" stroke-width="6.2" stroke-linejoin="round" stroke-linecap="round" /><polyline points="775.0,162.4 775.0,205.0" fill="none" stroke="#356634" stroke-width="2.2" stroke-linejoin="round" stroke-linecap="round" /><polyline points="841.4,160.3 855.0,170.0 870.0,170.0" fill="none" stroke="#1a4b1b" stroke-width="6.2" stroke-linejoin="round" stroke-linecap="round" /><polyline points="841.4,160.3 855.0,170.0 870.0,170.0" fill="none" stroke="#356634" stroke-width="2.2" stroke-linejoin="round" stroke-linecap="round" /><polyline points="862.4,169.0 862.4,178.0 850.0,190.0" fill="none" stroke="#1a4b1b" stroke-width="6.2" stroke-linejoin="round" stroke-linecap="round" /><polyline points="862.4,169.0 862.4,178.0 850.0,190.0" fill="none" stroke="#356634" stroke-width="2.2" stroke-linejoin="round" stroke-linecap="round" /><polyline points="908.4,169.0 908.4,178.0 905.0,186.0" fill="none" stroke="#1a4b1b" stroke-width="6.2" stroke-linejoin="round" stroke-linecap="round" /><polyline points="908.4,169.0 908.4,178.0 905.0,186.0" fill="none" stroke="#356634" stroke-width="2.2" stroke-linejoin="round" stroke-linecap="round" /><polyline points="924.6,163.0 935.0,175.0 935.0,200.0" fill="none" stroke="#1a4b1b" stroke-width="6.2" stroke-linejoin="round" stroke-linecap="round" /><polyline points="924.6,163.0 935.0,175.0 935.0,200.0" fill="none" stroke="#356634" stroke-width="2.2" stroke-linejoin="round" stroke-linecap="round" /><polyline points="815.7,190.0 800.0,200.0 760.0,200.0" fill="none" stroke="#1a4b1b" stroke-width="6.2" stroke-linejoin="round" stroke-linecap="round" /><polyline points="815.7,190.0 800.0,200.0 760.0,200.0" fill="none" stroke="#356634" stroke-width="2.2" stroke-linejoin="round" stroke-linecap="round" /><rect x="752.7" y="63.5" width="13.0" height="13.0" fill="#1a4b1b" /><rect x="754.6" y="65.4" width="9.2" height="9.2" fill="#cd9934" /><circle cx="759.2" cy="70.0" r="2.1" fill="#dcdcdc" /><circle cx="759.2" cy="83.1" r="7.0" fill="#1a4b1b" /><circle cx="759.2" cy="83.1" r="4.7" fill="#cd9934" /><circle cx="759.2" cy="83.1" r="2.1" fill="#dcdcdc" /><rect x="793.9" y="63.5" width="13.0" height="13.0" fill="#1a4b1b" /><rect x="795.8" y="65.4" width="9.2" height="9.2" fill="#cd9934" /><circle cx="800.4" cy="70.0" r="2.1" fill="#dcdcdc" /><circle cx="800.4" cy="83.1" r="7.0" fill="#1a4b1b" /><circle cx="800.4" cy="83.1" r="4.7" fill="#cd9934" /><circle cx="800.4" cy="83.1" r="2.1" fill="#dcdcdc" /><rect x="835.4" y="63.5" width="13.0" height="13.0" fill="#1a4b1b" /><rect x="837.3" y="65.4" width="9.2" height="9.2" fill="#cd9934" /><circle cx="841.9" cy="70.0" r="2.1" fill="#dcdcdc" /><circle cx="841.9" cy="83.1" r="7.0" fill="#1a4b1b" /><circle cx="841.9" cy="83.1" r="4.7" fill="#cd9934" /><circle cx="841.9" cy="83.1" r="2.1" fill="#dcdcdc" /><rect x="876.9" y="63.5" width="13.0" height="13.0" fill="#1a4b1b" /><rect x="878.8" y="65.4" width="9.2" height="9.2" fill="#cd9934" /><circle cx="883.4" cy="70.0" r="2.1" fill="#dcdcdc" /><circle cx="883.4" cy="83.1" r="7.0" fill="#1a4b1b" /><circle cx="883.4" cy="83.1" r="4.7" fill="#cd9934" /><circle cx="883.4" cy="83.1" r="2.1" fill="#dcdcdc" /><rect x="918.1" y="63.5" width="13.0" height="13.0" fill="#1a4b1b" /><rect x="920.0" y="65.4" width="9.2" height="9.2" fill="#cd9934" /><circle cx="924.6" cy="70.0" r="2.1" fill="#dcdcdc" /><circle cx="924.6" cy="83.1" r="7.0" fill="#1a4b1b" /><circle cx="924.6" cy="83.1" r="4.7" fill="#cd9934" /><circle cx="924.6" cy="83.1" r="2.1" fill="#dcdcdc" /><rect x="774.3" y="78.4" width="9.2" height="9.2" fill="#a2a2a2" stroke="#bfa477" stroke-width="0.7"/><rect x="774.3" y="93.6" width="9.2" height="8.4" fill="#a2a2a2" stroke="#bfa477" stroke-width="0.7"/><rect x="774.3" y="90.0" width="1.1" height="3.0" fill="#f0f0f0" /><rect x="782.4" y="90.0" width="1.1" height="3.0" fill="#f0f0f0" /><rect x="815.0" y="78.4" width="9.2" height="9.2" fill="#a2a2a2" stroke="#bfa477" stroke-width="0.7"/><rect x="815.0" y="93.6" width="9.2" height="8.4" fill="#a2a2a2" stroke="#bfa477" stroke-width="0.7"/><rect x="815.0" y="90.0" width="1.1" height="3.0" fill="#f0f0f0" /><rect x="823.1" y="90.0" width="1.1" height="3.0" fill="#f0f0f0" /><rect x="857.8" y="78.4" width="9.2" height="9.2" fill="#a2a2a2" stroke="#bfa477" stroke-width="0.7"/><rect x="857.8" y="93.6" width="9.2" height="8.4" fill="#a2a2a2" stroke="#bfa477" stroke-width="0.7"/><rect x="857.8" y="90.0" width="1.1" height="3.0" fill="#f0f0f0" /><rect x="865.9" y="90.0" width="1.1" height="3.0" fill="#f0f0f0" /><rect x="897.2" y="78.4" width="9.2" height="9.2" fill="#a2a2a2" stroke="#bfa477" stroke-width="0.7"/><rect x="897.2" y="93.6" width="9.2" height="8.4" fill="#a2a2a2" stroke="#bfa477" stroke-width="0.7"/><rect x="897.2" y="90.0" width="1.1" height="3.0" fill="#f0f0f0" /><rect x="905.3" y="90.0" width="1.1" height="3.0" fill="#f0f0f0" /><rect x="934.5" y="78.4" width="9.2" height="9.2" fill="#a2a2a2" stroke="#bfa477" stroke-width="0.7"/><rect x="934.5" y="93.6" width="9.2" height="8.4" fill="#a2a2a2" stroke="#bfa477" stroke-width="0.7"/><rect x="934.5" y="90.0" width="1.1" height="3.0" fill="#f0f0f0" /><rect x="942.6" y="90.0" width="1.1" height="3.0" fill="#f0f0f0" /><text x="0.0" y="0.0" font-size="9.5" fill="#f0f0f0" font-family="Liberation Mono" transform="translate(763.9,85) rotate(90)">1k</text><text x="0.0" y="0.0" font-size="9.5" fill="#f0f0f0" font-family="Liberation Mono" transform="translate(784.4,81) rotate(90)">R14</text><text x="0.0" y="0.0" font-size="9.5" fill="#f0f0f0" font-family="Liberation Mono" transform="translate(804.6,85) rotate(90)">1k</text><text x="0.0" y="0.0" font-size="9.5" fill="#f0f0f0" font-family="Liberation Mono" transform="translate(825.1,81) rotate(90)">R15</text><text x="0.0" y="0.0" font-size="9.5" fill="#f0f0f0" font-family="Liberation Mono" transform="translate(847.4,85) rotate(90)">1k</text><text x="0.0" y="0.0" font-size="9.5" fill="#f0f0f0" font-family="Liberation Mono" transform="translate(867.9,81) rotate(90)">R16</text><text x="0.0" y="0.0" font-size="9.5" fill="#f0f0f0" font-family="Liberation Mono" transform="translate(886.8,85) rotate(90)">1k</text><text x="0.0" y="0.0" font-size="9.5" fill="#f0f0f0" font-family="Liberation Mono" transform="translate(907.3,81) rotate(90)">R17</text><text x="932.5" y="77.0" font-size="10.0" fill="#f0f0f0" font-family="Liberation Mono"  textLength="15.9" lengthAdjust="spacingAndGlyphs">R18</text><text x="935.0" y="111.2" font-size="10.0" fill="#f0f0f0" font-family="Liberation Mono"  textLength="7.6" lengthAdjust="spacingAndGlyphs">1k</text><circle cx="774.7" cy="143.1" r="36.2" fill="none" stroke="#f0f0f0" stroke-width="1.3"/><rect x="754.7" y="118.0" width="9.0" height="9.0" fill="#cd9934" /><circle cx="759.2" cy="122.5" r="2.1" fill="#dcdcdc" /><circle cx="775.0" cy="122.5" r="4.6" fill="#cd9934" /><circle cx="775.0" cy="122.5" r="2.1" fill="#dcdcdc" /><circle cx="759.2" cy="136.2" r="4.6" fill="#cd9934" /><circle cx="759.2" cy="136.2" r="2.1" fill="#dcdcdc" /><rect x="768.0" y="155.4" width="14.0" height="14.0" fill="#1a4b1b" /><rect x="769.8" y="157.2" width="10.4" height="10.4" fill="#cd9934" /><circle cx="775.0" cy="162.4" r="2.3" fill="#dcdcdc" /><text x="731.0" y="149.3" font-size="7.6" fill="#f0f0f0" font-family="Liberation Sans"  textLength="41.2" lengthAdjust="spacingAndGlyphs">Max  Amps</text><text x="767.9" y="187.4" font-size="11.0" fill="#f0f0f0" font-family="Liberation Mono"  textLength="18.1" lengthAdjust="spacingAndGlyphs">PZ1</text><text x="757.9" y="195.4" font-size="11.0" fill="#f0f0f0" font-family="Liberation Mono"  textLength="32.9" lengthAdjust="spacingAndGlyphs">Buzzer</text><rect x="815.1" y="119.9" width="9.0" height="9.7" fill="#a2a2a2" stroke="#bfa477" stroke-width="0.7"/><rect x="829.2" y="119.9" width="9.0" height="9.7" fill="#a2a2a2" stroke="#bfa477" stroke-width="0.7"/><text x="839.3" y="120.4" font-size="10.0" fill="#f0f0f0" font-family="Liberation Mono"  textLength="17.1" lengthAdjust="spacingAndGlyphs">R21</text><text x="838.8" y="128.8" font-size="10.0" fill="#f0f0f0" font-family="Liberation Mono"  textLength="7.6" lengthAdjust="spacingAndGlyphs">1k</text><rect x="836.6" y="140.3" width="9.5" height="8.5" fill="#a2a2a2" stroke="#bfa477" stroke-width="0.7"/><rect x="836.6" y="156.1" width="9.5" height="8.5" fill="#a2a2a2" stroke="#bfa477" stroke-width="0.7"/><text x="815.1" y="148.0" font-size="10.0" fill="#f0f0f0" font-family="Liberation Mono" >R22</text><text x="827.5" y="155.9" font-size="10.0" fill="#f0f0f0" font-family="Liberation Mono"  textLength="7.6" lengthAdjust="spacingAndGlyphs">1k</text><rect x="813.4" y="157.3" width="3.5" height="5.0" fill="#a89a84" /><rect x="823.1" y="157.3" width="3.5" height="5.0" fill="#a89a84" /><rect x="817.9" y="169.1" width="3.5" height="5.0" fill="#a89a84" /><rect x="811.7" y="164.5" width="15.8" height="2.6" fill="none" stroke="#f0f0f0" stroke-width="1"/><text x="799.9" y="176.9" font-size="11.0" fill="#f0f0f0" font-family="Liberation Mono" >Q3</text><rect x="860.8" y="129.6" width="3.2" height="10.5" fill="#a89a84" /><rect x="860.8" y="158.5" width="3.2" height="10.5" fill="#a89a84" /><rect x="867.4" y="129.6" width="3.2" height="10.5" fill="#a89a84" /><rect x="867.4" y="158.5" width="3.2" height="10.5" fill="#a89a84" /><rect x="873.9" y="129.6" width="3.2" height="10.5" fill="#a89a84" /><rect x="873.9" y="158.5" width="3.2" height="10.5" fill="#a89a84" /><rect x="880.5" y="129.6" width="3.2" height="10.5" fill="#a89a84" /><rect x="880.5" y="158.5" width="3.2" height="10.5" fill="#a89a84" /><rect x="887.1" y="129.6" width="3.2" height="10.5" fill="#a89a84" /><rect x="887.1" y="158.5" width="3.2" height="10.5" fill="#a89a84" /><rect x="893.6" y="129.6" width="3.2" height="10.5" fill="#a89a84" /><rect x="893.6" y="158.5" width="3.2" height="10.5" fill="#a89a84" /><rect x="900.2" y="129.6" width="3.2" height="10.5" fill="#a89a84" /><rect x="900.2" y="158.5" width="3.2" height="10.5" fill="#a89a84" /><rect x="906.8" y="129.6" width="3.2" height="10.5" fill="#a89a84" /><rect x="906.8" y="158.5" width="3.2" height="10.5" fill="#a89a84" /><path d="M859,142.7 H911.5 V146.5 A2.8,2.8 0 0 0 911.5,152 V155.8 H859 Z" fill="none" stroke="#f0f0f0" stroke-width="1.2"/><text x="883.9" y="118.3" font-size="11.0" fill="#f0f0f0" font-family="Liberation Mono"  textLength="12.6" lengthAdjust="spacingAndGlyphs">U5</text><text x="859.6" y="127.0" font-size="10.9" fill="#f0f0f0" font-family="Liberation Mono" >MC74HC595</text><rect x="920.7" y="144.0" width="8.4" height="8.4" fill="#a2a2a2" stroke="#bfa477" stroke-width="0.7"/><rect x="920.7" y="158.5" width="8.4" height="9.2" fill="#a2a2a2" stroke="#bfa477" stroke-width="0.7"/><text x="916.0" y="140.9" font-size="10.5" fill="#f0f0f0" font-family="Liberation Mono" >C23</text><rect x="808.7" y="183.2" width="14.0" height="14.0" fill="#1a4b1b" /><rect x="810.7" y="185.2" width="10.0" height="10.0" fill="#cd9934" /><circle cx="815.7" cy="190.2" r="2.3" fill="#dcdcdc" /><circle cx="828.8" cy="190.2" r="7.0" fill="#1a4b1b" /><circle cx="828.8" cy="190.2" r="4.8" fill="#cd9934" /><circle cx="828.8" cy="190.2" r="2.3" fill="#dcdcdc" /><circle cx="841.9" cy="190.2" r="7.0" fill="#1a4b1b" /><circle cx="841.9" cy="190.2" r="4.8" fill="#cd9934" /><circle cx="841.9" cy="190.2" r="2.3" fill="#dcdcdc" /><circle cx="855.0" cy="190.2" r="7.0" fill="#1a4b1b" /><circle cx="855.0" cy="190.2" r="4.8" fill="#cd9934" /><circle cx="855.0" cy="190.2" r="2.3" fill="#dcdcdc" /><circle cx="868.7" cy="190.2" r="7.0" fill="#1a4b1b" /><circle cx="868.7" cy="190.2" r="4.8" fill="#cd9934" /><circle cx="868.7" cy="190.2" r="2.3" fill="#dcdcdc" /><rect x="809.1" y="183.4" width="66.2" height="13.7" fill="none" stroke="#f0f0f0" stroke-width="1.2"/><text x="797.5" y="194.4" font-size="11.0" fill="#f0f0f0" font-family="Liberation Mono"  textLength="12.0" lengthAdjust="spacingAndGlyphs">J7</text><rect x="808.7" y="219.6" width="14.0" height="14.0" fill="#1a4b1b" /><rect x="810.7" y="221.6" width="10.0" height="10.0" fill="#cd9934" /><circle cx="815.7" cy="226.6" r="2.3" fill="#dcdcdc" /><circle cx="828.8" cy="226.6" r="7.0" fill="#1a4b1b" /><circle cx="828.8" cy="226.6" r="4.8" fill="#cd9934" /><circle cx="828.8" cy="226.6" r="2.3" fill="#dcdcdc" /><circle cx="841.9" cy="226.6" r="7.0" fill="#1a4b1b" /><circle cx="841.9" cy="226.6" r="4.8" fill="#cd9934" /><circle cx="841.9" cy="226.6" r="2.3" fill="#dcdcdc" /><circle cx="855.0" cy="226.6" r="7.0" fill="#1a4b1b" /><circle cx="855.0" cy="226.6" r="4.8" fill="#cd9934" /><circle cx="855.0" cy="226.6" r="2.3" fill="#dcdcdc" /><circle cx="868.7" cy="226.6" r="7.0" fill="#1a4b1b" /><circle cx="868.7" cy="226.6" r="4.8" fill="#cd9934" /><circle cx="868.7" cy="226.6" r="2.3" fill="#dcdcdc" /><rect x="809.1" y="219.8" width="66.2" height="13.7" fill="none" stroke="#f0f0f0" stroke-width="1.2"/><text x="797.5" y="230.8" font-size="11.0" fill="#f0f0f0" font-family="Liberation Mono"  textLength="12.0" lengthAdjust="spacingAndGlyphs">J8</text><circle cx="905" cy="186" r="13.1" fill="none" stroke="#f0f0f0" stroke-width="1.2"/><rect x="894.2" y="181.8" width="8.4" height="8.4" fill="#cd9934" /><circle cx="898.4" cy="186.0" r="2.0" fill="#dcdcdc" /><circle cx="911.5" cy="186.0" r="4.5" fill="#cd9934" /><circle cx="911.5" cy="186.0" r="2.1" fill="#dcdcdc" /><text x="885.0" y="189.0" font-size="9.0" fill="#f0f0f0" font-family="Liberation Mono" >+</text><text x="915.5" y="176.9" font-size="10.5" fill="#f0f0f0" font-family="Liberation Mono" >C24</text><rect x="809.0" y="237.4" width="11.0" height="10.0" fill="#f0f0f0" /><rect x="822.0" y="236.0" width="12.0" height="17.7" fill="#f0f0f0" /><text x="0.0" y="0.0" font-size="8.5" fill="#1a4b1b" font-family="Liberation Mono" transform="translate(811.5,239) rotate(90)">0v</text><text x="0.0" y="0.0" font-size="8.5" fill="#1a4b1b" font-family="Liberation Mono" transform="translate(824.5,237.5) rotate(90)">+5v</text><text x="0.0" y="0.0" font-size="9.0" fill="#f0f0f0" font-family="Liberation Mono" transform="translate(839,237) rotate(90)">SFTClk</text><text x="0.0" y="0.0" font-size="9.0" fill="#f0f0f0" font-family="Liberation Mono" transform="translate(852,237) rotate(90)">LchClk</text><text x="0.0" y="0.0" font-size="9.0" fill="#f0f0f0" font-family="Liberation Mono" transform="translate(865,237) rotate(90)">Sdl</text><circle cx="945.8" cy="228.1" r="13.0" fill="#1a4b1b" /><circle cx="945.8" cy="228.1" r="7.8" fill="#c2c2c2" /><circle cx="757.0" cy="204.6" r="0.8" fill="#1a4b1b" /><circle cx="759.6" cy="204.6" r="0.8" fill="#1a4b1b" /><circle cx="762.2" cy="204.6" r="0.8" fill="#1a4b1b" /><circle cx="764.8" cy="204.6" r="0.8" fill="#1a4b1b" /><circle cx="767.4" cy="204.6" r="0.8" fill="#1a4b1b" /><circle cx="770.0" cy="204.6" r="0.8" fill="#1a4b1b" /><circle cx="772.6" cy="204.6" r="0.8" fill="#1a4b1b" /><circle cx="775.2" cy="204.6" r="0.8" fill="#1a4b1b" /><circle cx="777.8" cy="204.6" r="0.8" fill="#1a4b1b" /><circle cx="780.4" cy="204.6" r="0.8" fill="#1a4b1b" /><circle cx="783.0" cy="204.6" r="0.8" fill="#1a4b1b" /><circle cx="785.6" cy="204.6" r="0.8" fill="#1a4b1b" /><circle cx="788.2" cy="204.6" r="0.8" fill="#1a4b1b" /><circle cx="790.8" cy="204.6" r="0.8" fill="#1a4b1b" /><circle cx="793.4" cy="204.6" r="0.8" fill="#1a4b1b" /><circle cx="796.0" cy="204.6" r="0.8" fill="#1a4b1b" /><circle cx="798.6" cy="204.6" r="0.8" fill="#1a4b1b" /><circle cx="801.2" cy="204.6" r="0.8" fill="#1a4b1b" /><circle cx="803.8" cy="204.6" r="0.8" fill="#1a4b1b" /><circle cx="806.4" cy="204.6" r="0.8" fill="#1a4b1b" /><circle cx="809.0" cy="204.6" r="0.8" fill="#1a4b1b" /><circle cx="811.6" cy="204.6" r="0.8" fill="#1a4b1b" /><circle cx="814.2" cy="204.6" r="0.8" fill="#1a4b1b" /><circle cx="816.8" cy="204.6" r="0.8" fill="#1a4b1b" /><circle cx="819.4" cy="204.6" r="0.8" fill="#1a4b1b" /><circle cx="822.0" cy="204.6" r="0.8" fill="#1a4b1b" /><circle cx="840.0" cy="204.6" r="0.8" fill="#1a4b1b" /><circle cx="842.6" cy="204.6" r="0.8" fill="#1a4b1b" /><circle cx="845.1" cy="204.6" r="0.8" fill="#1a4b1b" /><circle cx="847.7" cy="204.6" r="0.8" fill="#1a4b1b" /><circle cx="850.3" cy="204.6" r="0.8" fill="#1a4b1b" /><circle cx="852.9" cy="204.6" r="0.8" fill="#1a4b1b" /><circle cx="855.4" cy="204.6" r="0.8" fill="#1a4b1b" /><circle cx="858.0" cy="204.6" r="0.8" fill="#1a4b1b" /><circle cx="860.6" cy="204.6" r="0.8" fill="#1a4b1b" /><circle cx="863.1" cy="204.6" r="0.8" fill="#1a4b1b" /><circle cx="865.7" cy="204.6" r="0.8" fill="#1a4b1b" /><circle cx="868.3" cy="204.6" r="0.8" fill="#1a4b1b" /><circle cx="870.9" cy="204.6" r="0.8" fill="#1a4b1b" /><circle cx="873.4" cy="204.6" r="0.8" fill="#1a4b1b" /><circle cx="876.0" cy="204.6" r="0.8" fill="#1a4b1b" /><circle cx="878.6" cy="204.6" r="0.8" fill="#1a4b1b" /><circle cx="881.1" cy="204.6" r="0.8" fill="#1a4b1b" /><circle cx="883.7" cy="204.6" r="0.8" fill="#1a4b1b" /><circle cx="886.3" cy="204.6" r="0.8" fill="#1a4b1b" /><circle cx="888.9" cy="204.6" r="0.8" fill="#1a4b1b" /><circle cx="891.4" cy="204.6" r="0.8" fill="#1a4b1b" /><circle cx="894.0" cy="204.6" r="0.8" fill="#1a4b1b" /><circle cx="896.6" cy="204.6" r="0.8" fill="#1a4b1b" /><circle cx="899.1" cy="204.6" r="0.8" fill="#1a4b1b" /><circle cx="901.7" cy="204.6" r="0.8" fill="#1a4b1b" /><circle cx="904.3" cy="204.6" r="0.8" fill="#1a4b1b" /><circle cx="906.9" cy="204.6" r="0.8" fill="#1a4b1b" /><circle cx="909.4" cy="204.6" r="0.8" fill="#1a4b1b" /><circle cx="912.0" cy="204.6" r="0.8" fill="#1a4b1b" /><circle cx="914.6" cy="204.6" r="0.8" fill="#1a4b1b" /><circle cx="917.1" cy="204.6" r="0.8" fill="#1a4b1b" /><circle cx="919.7" cy="204.6" r="0.8" fill="#1a4b1b" /><circle cx="922.3" cy="204.6" r="0.8" fill="#1a4b1b" /><circle cx="924.9" cy="204.6" r="0.8" fill="#1a4b1b" /><circle cx="927.4" cy="204.6" r="0.8" fill="#1a4b1b" /><circle cx="930.0" cy="204.6" r="0.8" fill="#1a4b1b" /><circle cx="758.3" cy="207.1" r="0.8" fill="#1a4b1b" /><circle cx="760.9" cy="207.1" r="0.8" fill="#1a4b1b" /><circle cx="763.5" cy="207.1" r="0.8" fill="#1a4b1b" /><circle cx="766.1" cy="207.1" r="0.8" fill="#1a4b1b" /><circle cx="768.7" cy="207.1" r="0.8" fill="#1a4b1b" /><circle cx="771.3" cy="207.1" r="0.8" fill="#1a4b1b" /><circle cx="773.9" cy="207.1" r="0.8" fill="#1a4b1b" /><circle cx="776.5" cy="207.1" r="0.8" fill="#1a4b1b" /><circle cx="779.1" cy="207.1" r="0.8" fill="#1a4b1b" /><circle cx="781.7" cy="207.1" r="0.8" fill="#1a4b1b" /><circle cx="784.3" cy="207.1" r="0.8" fill="#1a4b1b" /><circle cx="786.9" cy="207.1" r="0.8" fill="#1a4b1b" /><circle cx="789.5" cy="207.1" r="0.8" fill="#1a4b1b" /><circle cx="792.1" cy="207.1" r="0.8" fill="#1a4b1b" /><circle cx="794.7" cy="207.1" r="0.8" fill="#1a4b1b" /><circle cx="797.3" cy="207.1" r="0.8" fill="#1a4b1b" /><circle cx="799.9" cy="207.1" r="0.8" fill="#1a4b1b" /><circle cx="802.5" cy="207.1" r="0.8" fill="#1a4b1b" /><circle cx="805.1" cy="207.1" r="0.8" fill="#1a4b1b" /><circle cx="807.7" cy="207.1" r="0.8" fill="#1a4b1b" /><circle cx="810.3" cy="207.1" r="0.8" fill="#1a4b1b" /><circle cx="812.9" cy="207.1" r="0.8" fill="#1a4b1b" /><circle cx="815.5" cy="207.1" r="0.8" fill="#1a4b1b" /><circle cx="818.1" cy="207.1" r="0.8" fill="#1a4b1b" /><circle cx="820.7" cy="207.1" r="0.8" fill="#1a4b1b" /><circle cx="823.3" cy="207.1" r="0.8" fill="#1a4b1b" /><circle cx="841.3" cy="207.1" r="0.8" fill="#1a4b1b" /><circle cx="843.9" cy="207.1" r="0.8" fill="#1a4b1b" /><circle cx="846.4" cy="207.1" r="0.8" fill="#1a4b1b" /><circle cx="849.0" cy="207.1" r="0.8" fill="#1a4b1b" /><circle cx="851.6" cy="207.1" r="0.8" fill="#1a4b1b" /><circle cx="854.2" cy="207.1" r="0.8" fill="#1a4b1b" /><circle cx="856.7" cy="207.1" r="0.8" fill="#1a4b1b" /><circle cx="859.3" cy="207.1" r="0.8" fill="#1a4b1b" /><circle cx="861.9" cy="207.1" r="0.8" fill="#1a4b1b" /><circle cx="864.4" cy="207.1" r="0.8" fill="#1a4b1b" /><circle cx="867.0" cy="207.1" r="0.8" fill="#1a4b1b" /><circle cx="869.6" cy="207.1" r="0.8" fill="#1a4b1b" /><circle cx="872.2" cy="207.1" r="0.8" fill="#1a4b1b" /><circle cx="874.7" cy="207.1" r="0.8" fill="#1a4b1b" /><circle cx="877.3" cy="207.1" r="0.8" fill="#1a4b1b" /><circle cx="879.9" cy="207.1" r="0.8" fill="#1a4b1b" /><circle cx="882.4" cy="207.1" r="0.8" fill="#1a4b1b" /><circle cx="885.0" cy="207.1" r="0.8" fill="#1a4b1b" /><circle cx="887.6" cy="207.1" r="0.8" fill="#1a4b1b" /><circle cx="890.2" cy="207.1" r="0.8" fill="#1a4b1b" /><circle cx="892.7" cy="207.1" r="0.8" fill="#1a4b1b" /><circle cx="895.3" cy="207.1" r="0.8" fill="#1a4b1b" /><circle cx="897.9" cy="207.1" r="0.8" fill="#1a4b1b" /><circle cx="900.4" cy="207.1" r="0.8" fill="#1a4b1b" /><circle cx="903.0" cy="207.1" r="0.8" fill="#1a4b1b" /><circle cx="905.6" cy="207.1" r="0.8" fill="#1a4b1b" /><circle cx="908.2" cy="207.1" r="0.8" fill="#1a4b1b" /><circle cx="910.7" cy="207.1" r="0.8" fill="#1a4b1b" /><circle cx="913.3" cy="207.1" r="0.8" fill="#1a4b1b" /><circle cx="915.9" cy="207.1" r="0.8" fill="#1a4b1b" /><circle cx="918.4" cy="207.1" r="0.8" fill="#1a4b1b" /><circle cx="921.0" cy="207.1" r="0.8" fill="#1a4b1b" /><circle cx="923.6" cy="207.1" r="0.8" fill="#1a4b1b" /><circle cx="926.2" cy="207.1" r="0.8" fill="#1a4b1b" /><circle cx="928.7" cy="207.1" r="0.8" fill="#1a4b1b" /><circle cx="931.3" cy="207.1" r="0.8" fill="#1a4b1b" /><circle cx="757.0" cy="209.6" r="0.8" fill="#1a4b1b" /><circle cx="759.6" cy="209.6" r="0.8" fill="#1a4b1b" /><circle cx="762.2" cy="209.6" r="0.8" fill="#1a4b1b" /><circle cx="764.8" cy="209.6" r="0.8" fill="#1a4b1b" /><circle cx="767.4" cy="209.6" r="0.8" fill="#1a4b1b" /><circle cx="770.0" cy="209.6" r="0.8" fill="#1a4b1b" /><circle cx="772.6" cy="209.6" r="0.8" fill="#1a4b1b" /><circle cx="775.2" cy="209.6" r="0.8" fill="#1a4b1b" /><circle cx="777.8" cy="209.6" r="0.8" fill="#1a4b1b" /><circle cx="780.4" cy="209.6" r="0.8" fill="#1a4b1b" /><circle cx="783.0" cy="209.6" r="0.8" fill="#1a4b1b" /><circle cx="785.6" cy="209.6" r="0.8" fill="#1a4b1b" /><circle cx="788.2" cy="209.6" r="0.8" fill="#1a4b1b" /><circle cx="790.8" cy="209.6" r="0.8" fill="#1a4b1b" /><circle cx="793.4" cy="209.6" r="0.8" fill="#1a4b1b" /><circle cx="796.0" cy="209.6" r="0.8" fill="#1a4b1b" /><circle cx="798.6" cy="209.6" r="0.8" fill="#1a4b1b" /><circle cx="801.2" cy="209.6" r="0.8" fill="#1a4b1b" /><circle cx="803.8" cy="209.6" r="0.8" fill="#1a4b1b" /><circle cx="806.4" cy="209.6" r="0.8" fill="#1a4b1b" /><circle cx="809.0" cy="209.6" r="0.8" fill="#1a4b1b" /><circle cx="811.6" cy="209.6" r="0.8" fill="#1a4b1b" /><circle cx="814.2" cy="209.6" r="0.8" fill="#1a4b1b" /><circle cx="816.8" cy="209.6" r="0.8" fill="#1a4b1b" /><circle cx="819.4" cy="209.6" r="0.8" fill="#1a4b1b" /><circle cx="822.0" cy="209.6" r="0.8" fill="#1a4b1b" /><circle cx="840.0" cy="209.6" r="0.8" fill="#1a4b1b" /><circle cx="842.6" cy="209.6" r="0.8" fill="#1a4b1b" /><circle cx="845.1" cy="209.6" r="0.8" fill="#1a4b1b" /><circle cx="847.7" cy="209.6" r="0.8" fill="#1a4b1b" /><circle cx="850.3" cy="209.6" r="0.8" fill="#1a4b1b" /><circle cx="852.9" cy="209.6" r="0.8" fill="#1a4b1b" /><circle cx="855.4" cy="209.6" r="0.8" fill="#1a4b1b" /><circle cx="858.0" cy="209.6" r="0.8" fill="#1a4b1b" /><circle cx="860.6" cy="209.6" r="0.8" fill="#1a4b1b" /><circle cx="863.1" cy="209.6" r="0.8" fill="#1a4b1b" /><circle cx="865.7" cy="209.6" r="0.8" fill="#1a4b1b" /><circle cx="868.3" cy="209.6" r="0.8" fill="#1a4b1b" /><circle cx="870.9" cy="209.6" r="0.8" fill="#1a4b1b" /><circle cx="873.4" cy="209.6" r="0.8" fill="#1a4b1b" /><circle cx="876.0" cy="209.6" r="0.8" fill="#1a4b1b" /><circle cx="878.6" cy="209.6" r="0.8" fill="#1a4b1b" /><circle cx="881.1" cy="209.6" r="0.8" fill="#1a4b1b" /><circle cx="883.7" cy="209.6" r="0.8" fill="#1a4b1b" /><circle cx="886.3" cy="209.6" r="0.8" fill="#1a4b1b" /><circle cx="888.9" cy="209.6" r="0.8" fill="#1a4b1b" /><circle cx="891.4" cy="209.6" r="0.8" fill="#1a4b1b" /><circle cx="894.0" cy="209.6" r="0.8" fill="#1a4b1b" /><circle cx="896.6" cy="209.6" r="0.8" fill="#1a4b1b" /><circle cx="899.1" cy="209.6" r="0.8" fill="#1a4b1b" /><circle cx="901.7" cy="209.6" r="0.8" fill="#1a4b1b" /><circle cx="904.3" cy="209.6" r="0.8" fill="#1a4b1b" /><circle cx="906.9" cy="209.6" r="0.8" fill="#1a4b1b" /><circle cx="909.4" cy="209.6" r="0.8" fill="#1a4b1b" /><circle cx="912.0" cy="209.6" r="0.8" fill="#1a4b1b" /><circle cx="914.6" cy="209.6" r="0.8" fill="#1a4b1b" /><circle cx="917.1" cy="209.6" r="0.8" fill="#1a4b1b" /><circle cx="919.7" cy="209.6" r="0.8" fill="#1a4b1b" /><circle cx="922.3" cy="209.6" r="0.8" fill="#1a4b1b" /><circle cx="924.9" cy="209.6" r="0.8" fill="#1a4b1b" /><circle cx="927.4" cy="209.6" r="0.8" fill="#1a4b1b" /><circle cx="930.0" cy="209.6" r="0.8" fill="#1a4b1b" /><circle cx="758.3" cy="212.1" r="0.8" fill="#1a4b1b" /><circle cx="760.9" cy="212.1" r="0.8" fill="#1a4b1b" /><circle cx="763.5" cy="212.1" r="0.8" fill="#1a4b1b" /><circle cx="766.1" cy="212.1" r="0.8" fill="#1a4b1b" /><circle cx="768.7" cy="212.1" r="0.8" fill="#1a4b1b" /><circle cx="771.3" cy="212.1" r="0.8" fill="#1a4b1b" /><circle cx="773.9" cy="212.1" r="0.8" fill="#1a4b1b" /><circle cx="776.5" cy="212.1" r="0.8" fill="#1a4b1b" /><circle cx="779.1" cy="212.1" r="0.8" fill="#1a4b1b" /><circle cx="781.7" cy="212.1" r="0.8" fill="#1a4b1b" /><circle cx="784.3" cy="212.1" r="0.8" fill="#1a4b1b" /><circle cx="786.9" cy="212.1" r="0.8" fill="#1a4b1b" /><circle cx="789.5" cy="212.1" r="0.8" fill="#1a4b1b" /><circle cx="792.1" cy="212.1" r="0.8" fill="#1a4b1b" /><circle cx="794.7" cy="212.1" r="0.8" fill="#1a4b1b" /><circle cx="797.3" cy="212.1" r="0.8" fill="#1a4b1b" /><circle cx="799.9" cy="212.1" r="0.8" fill="#1a4b1b" /><circle cx="802.5" cy="212.1" r="0.8" fill="#1a4b1b" /><circle cx="805.1" cy="212.1" r="0.8" fill="#1a4b1b" /><circle cx="807.7" cy="212.1" r="0.8" fill="#1a4b1b" /><circle cx="810.3" cy="212.1" r="0.8" fill="#1a4b1b" /><circle cx="812.9" cy="212.1" r="0.8" fill="#1a4b1b" /><circle cx="815.5" cy="212.1" r="0.8" fill="#1a4b1b" /><circle cx="818.1" cy="212.1" r="0.8" fill="#1a4b1b" /><circle cx="820.7" cy="212.1" r="0.8" fill="#1a4b1b" /><circle cx="823.3" cy="212.1" r="0.8" fill="#1a4b1b" /><circle cx="841.3" cy="212.1" r="0.8" fill="#1a4b1b" /><circle cx="843.9" cy="212.1" r="0.8" fill="#1a4b1b" /><circle cx="846.4" cy="212.1" r="0.8" fill="#1a4b1b" /><circle cx="849.0" cy="212.1" r="0.8" fill="#1a4b1b" /><circle cx="851.6" cy="212.1" r="0.8" fill="#1a4b1b" /><circle cx="854.2" cy="212.1" r="0.8" fill="#1a4b1b" /><circle cx="856.7" cy="212.1" r="0.8" fill="#1a4b1b" /><circle cx="859.3" cy="212.1" r="0.8" fill="#1a4b1b" /><circle cx="861.9" cy="212.1" r="0.8" fill="#1a4b1b" /><circle cx="864.4" cy="212.1" r="0.8" fill="#1a4b1b" /><circle cx="867.0" cy="212.1" r="0.8" fill="#1a4b1b" /><circle cx="869.6" cy="212.1" r="0.8" fill="#1a4b1b" /><circle cx="872.2" cy="212.1" r="0.8" fill="#1a4b1b" /><circle cx="874.7" cy="212.1" r="0.8" fill="#1a4b1b" /><circle cx="877.3" cy="212.1" r="0.8" fill="#1a4b1b" /><circle cx="879.9" cy="212.1" r="0.8" fill="#1a4b1b" /><circle cx="882.4" cy="212.1" r="0.8" fill="#1a4b1b" /><circle cx="885.0" cy="212.1" r="0.8" fill="#1a4b1b" /><circle cx="887.6" cy="212.1" r="0.8" fill="#1a4b1b" /><circle cx="890.2" cy="212.1" r="0.8" fill="#1a4b1b" /><circle cx="892.7" cy="212.1" r="0.8" fill="#1a4b1b" /><circle cx="895.3" cy="212.1" r="0.8" fill="#1a4b1b" /><circle cx="897.9" cy="212.1" r="0.8" fill="#1a4b1b" /><circle cx="900.4" cy="212.1" r="0.8" fill="#1a4b1b" /><circle cx="903.0" cy="212.1" r="0.8" fill="#1a4b1b" /><circle cx="905.6" cy="212.1" r="0.8" fill="#1a4b1b" /><circle cx="908.2" cy="212.1" r="0.8" fill="#1a4b1b" /><circle cx="910.7" cy="212.1" r="0.8" fill="#1a4b1b" /><circle cx="913.3" cy="212.1" r="0.8" fill="#1a4b1b" /><circle cx="915.9" cy="212.1" r="0.8" fill="#1a4b1b" /><circle cx="918.4" cy="212.1" r="0.8" fill="#1a4b1b" /><circle cx="921.0" cy="212.1" r="0.8" fill="#1a4b1b" /><circle cx="923.6" cy="212.1" r="0.8" fill="#1a4b1b" /><circle cx="926.2" cy="212.1" r="0.8" fill="#1a4b1b" /><circle cx="928.7" cy="212.1" r="0.8" fill="#1a4b1b" /><circle cx="931.3" cy="212.1" r="0.8" fill="#1a4b1b" /><circle cx="757.0" cy="214.6" r="0.8" fill="#1a4b1b" /><circle cx="759.6" cy="214.6" r="0.8" fill="#1a4b1b" /><circle cx="762.2" cy="214.6" r="0.8" fill="#1a4b1b" /><circle cx="764.8" cy="214.6" r="0.8" fill="#1a4b1b" /><circle cx="767.4" cy="214.6" r="0.8" fill="#1a4b1b" /><circle cx="770.0" cy="214.6" r="0.8" fill="#1a4b1b" /><circle cx="772.6" cy="214.6" r="0.8" fill="#1a4b1b" /><circle cx="775.2" cy="214.6" r="0.8" fill="#1a4b1b" /><circle cx="777.8" cy="214.6" r="0.8" fill="#1a4b1b" /><circle cx="780.4" cy="214.6" r="0.8" fill="#1a4b1b" /><circle cx="783.0" cy="214.6" r="0.8" fill="#1a4b1b" /><circle cx="785.6" cy="214.6" r="0.8" fill="#1a4b1b" /><circle cx="788.2" cy="214.6" r="0.8" fill="#1a4b1b" /><circle cx="790.8" cy="214.6" r="0.8" fill="#1a4b1b" /><circle cx="793.4" cy="214.6" r="0.8" fill="#1a4b1b" /><circle cx="796.0" cy="214.6" r="0.8" fill="#1a4b1b" /><circle cx="798.6" cy="214.6" r="0.8" fill="#1a4b1b" /><circle cx="801.2" cy="214.6" r="0.8" fill="#1a4b1b" /><circle cx="803.8" cy="214.6" r="0.8" fill="#1a4b1b" /><circle cx="806.4" cy="214.6" r="0.8" fill="#1a4b1b" /><circle cx="809.0" cy="214.6" r="0.8" fill="#1a4b1b" /><circle cx="811.6" cy="214.6" r="0.8" fill="#1a4b1b" /><circle cx="814.2" cy="214.6" r="0.8" fill="#1a4b1b" /><circle cx="816.8" cy="214.6" r="0.8" fill="#1a4b1b" /><circle cx="819.4" cy="214.6" r="0.8" fill="#1a4b1b" /><circle cx="822.0" cy="214.6" r="0.8" fill="#1a4b1b" /><circle cx="840.0" cy="214.6" r="0.8" fill="#1a4b1b" /><circle cx="842.6" cy="214.6" r="0.8" fill="#1a4b1b" /><circle cx="845.1" cy="214.6" r="0.8" fill="#1a4b1b" /><circle cx="847.7" cy="214.6" r="0.8" fill="#1a4b1b" /><circle cx="850.3" cy="214.6" r="0.8" fill="#1a4b1b" /><circle cx="852.9" cy="214.6" r="0.8" fill="#1a4b1b" /><circle cx="855.4" cy="214.6" r="0.8" fill="#1a4b1b" /><circle cx="858.0" cy="214.6" r="0.8" fill="#1a4b1b" /><circle cx="860.6" cy="214.6" r="0.8" fill="#1a4b1b" /><circle cx="863.1" cy="214.6" r="0.8" fill="#1a4b1b" /><circle cx="865.7" cy="214.6" r="0.8" fill="#1a4b1b" /><circle cx="868.3" cy="214.6" r="0.8" fill="#1a4b1b" /><circle cx="870.9" cy="214.6" r="0.8" fill="#1a4b1b" /><circle cx="873.4" cy="214.6" r="0.8" fill="#1a4b1b" /><circle cx="876.0" cy="214.6" r="0.8" fill="#1a4b1b" /><circle cx="878.6" cy="214.6" r="0.8" fill="#1a4b1b" /><circle cx="881.1" cy="214.6" r="0.8" fill="#1a4b1b" /><circle cx="883.7" cy="214.6" r="0.8" fill="#1a4b1b" /><circle cx="886.3" cy="214.6" r="0.8" fill="#1a4b1b" /><circle cx="888.9" cy="214.6" r="0.8" fill="#1a4b1b" /><circle cx="891.4" cy="214.6" r="0.8" fill="#1a4b1b" /><circle cx="894.0" cy="214.6" r="0.8" fill="#1a4b1b" /><circle cx="896.6" cy="214.6" r="0.8" fill="#1a4b1b" /><circle cx="899.1" cy="214.6" r="0.8" fill="#1a4b1b" /><circle cx="901.7" cy="214.6" r="0.8" fill="#1a4b1b" /><circle cx="904.3" cy="214.6" r="0.8" fill="#1a4b1b" /><circle cx="906.9" cy="214.6" r="0.8" fill="#1a4b1b" /><circle cx="909.4" cy="214.6" r="0.8" fill="#1a4b1b" /><circle cx="912.0" cy="214.6" r="0.8" fill="#1a4b1b" /><circle cx="914.6" cy="214.6" r="0.8" fill="#1a4b1b" /><circle cx="917.1" cy="214.6" r="0.8" fill="#1a4b1b" /><circle cx="919.7" cy="214.6" r="0.8" fill="#1a4b1b" /><circle cx="922.3" cy="214.6" r="0.8" fill="#1a4b1b" /><circle cx="924.9" cy="214.6" r="0.8" fill="#1a4b1b" /><circle cx="927.4" cy="214.6" r="0.8" fill="#1a4b1b" /><circle cx="930.0" cy="214.6" r="0.8" fill="#1a4b1b" /><rect x="712.0" y="198.0" width="46.0" height="20.6" fill="#1a4b1b" /><rect x="717.7" y="180.0" width="5.5" height="33.3" fill="#c9c9c9" /><rect x="717.7" y="208.3" width="34.0" height="5.0" fill="#c9c9c9" /><circle cx="738.6" cy="192.3" r="13.0" fill="#1a4b1b" /><circle cx="738.6" cy="192.3" r="7.8" fill="#c2c2c2" /><rect x="928.0" y="201.0" width="33.0" height="17.0" fill="#1a4b1b" /><rect x="932.7" y="208.3" width="28.0" height="5.0" fill="#c9c9c9" /><circle cx="945.8" cy="192.6" r="13.0" fill="#1a4b1b" /><circle cx="945.8" cy="192.6" r="7.8" fill="#c2c2c2" /><polyline points="556.0,424.7 585.4,424.7 598.0,414.6 613.7,414.6" fill="none" stroke="#1a4b1b" stroke-width="10.6" stroke-linejoin="round" stroke-linecap="round" /><polyline points="555.5,424.7 555.5,466.0" fill="none" stroke="#1a4b1b" stroke-width="10.6" stroke-linejoin="round" stroke-linecap="round" /><polyline points="585.4,424.7 585.4,464.0 646.0,464.0 650.0,460.5 680.0,460.5 703.4,484.0" fill="none" stroke="#1a4b1b" stroke-width="10.6" stroke-linejoin="round" stroke-linecap="round" /><polyline points="592.0,430.0 600.0,438.0 669.5,438.0 672.7,433.5" fill="none" stroke="#1a4b1b" stroke-width="10.6" stroke-linejoin="round" stroke-linecap="round" /><polyline points="634.0,392.0 634.0,430.0 662.0,436.0" fill="none" stroke="#1a4b1b" stroke-width="10.6" stroke-linejoin="round" stroke-linecap="round" /><polyline points="642.0,392.0 651.0,400.0 651.0,430.0" fill="none" stroke="#1a4b1b" stroke-width="10.6" stroke-linejoin="round" stroke-linecap="round" /><polyline points="538.8,434.0 556.0,424.7" fill="none" stroke="#1a4b1b" stroke-width="10.6" stroke-linejoin="round" stroke-linecap="round" /><polyline points="712.9,468.0 712.9,478.0 716.5,489.0" fill="none" stroke="#1a4b1b" stroke-width="10.6" stroke-linejoin="round" stroke-linecap="round" /><polyline points="734.5,468.0 734.5,478.0 729.6,489.0" fill="none" stroke="#1a4b1b" stroke-width="10.6" stroke-linejoin="round" stroke-linecap="round" /><polyline points="643.0,218.7 629.0,218.0 619.0,228.0 619.0,298.0 600.0,310.5" fill="none" stroke="#1a4b1b" stroke-width="10.6" stroke-linejoin="round" stroke-linecap="round" /><polyline points="606.8,204.0 606.8,209.0 601.0,214.5" fill="none" stroke="#1a4b1b" stroke-width="10.6" stroke-linejoin="round" stroke-linecap="round" /><polyline points="742.4,239.1 706.6,279.8 706.6,293.4 698.0,299.5" fill="none" stroke="#1a4b1b" stroke-width="10.6" stroke-linejoin="round" stroke-linecap="round" /><polyline points="799.5,334.7 799.5,369.0 855.0,433.0 915.0,433.0 927.7,430.4" fill="none" stroke="#1a4b1b" stroke-width="9.6" stroke-linejoin="round" stroke-linecap="round" /><polyline points="806.5,334.7 806.5,362.0 866.0,423.0 915.0,423.0 927.7,417.1" fill="none" stroke="#1a4b1b" stroke-width="9.6" stroke-linejoin="round" stroke-linecap="round" /><polyline points="826.0,374.1 826.0,382.0 852.7,408.0 852.7,413.6" fill="none" stroke="#1a4b1b" stroke-width="7.4" stroke-linejoin="round" stroke-linecap="round" /><polyline points="839.7,374.1 839.7,382.0 866.1,408.0 866.1,413.6" fill="none" stroke="#1a4b1b" stroke-width="7.4" stroke-linejoin="round" stroke-linecap="round" /><polyline points="852.7,374.1 852.7,382.0 871.0,398.0" fill="none" stroke="#1a4b1b" stroke-width="7.4" stroke-linejoin="round" stroke-linecap="round" /><polyline points="879.0,374.1 892.0,374.1 905.0,374.1 905.0,386.0" fill="none" stroke="#1a4b1b" stroke-width="7.4" stroke-linejoin="round" stroke-linecap="round" /><polyline points="905.0,401.5 905.0,413.6" fill="none" stroke="#1a4b1b" stroke-width="7.4" stroke-linejoin="round" stroke-linecap="round" /><polyline points="775.5,334.7 800.2,334.7" fill="none" stroke="#1a4b1b" stroke-width="9.4" stroke-linejoin="round" stroke-linecap="round" /><polyline points="905.0,413.6 915.0,420.0 927.7,417.1" fill="none" stroke="#1a4b1b" stroke-width="10.6" stroke-linejoin="round" stroke-linecap="round" /><polyline points="503.0,354.5 492.0,360.0 492.0,470.0" fill="none" stroke="#1a4b1b" stroke-width="7.0" stroke-linejoin="round" stroke-linecap="round" /><polyline points="556.0,424.7 585.4,424.7 598.0,414.6 613.7,414.6" fill="none" stroke="#356634" stroke-width="4.0" stroke-linejoin="round" stroke-linecap="round" /><polyline points="555.5,424.7 555.5,466.0" fill="none" stroke="#356634" stroke-width="4.0" stroke-linejoin="round" stroke-linecap="round" /><polyline points="585.4,424.7 585.4,464.0 646.0,464.0 650.0,460.5 680.0,460.5 703.4,484.0" fill="none" stroke="#356634" stroke-width="4.0" stroke-linejoin="round" stroke-linecap="round" /><polyline points="592.0,430.0 600.0,438.0 669.5,438.0 672.7,433.5" fill="none" stroke="#356634" stroke-width="4.0" stroke-linejoin="round" stroke-linecap="round" /><polyline points="634.0,392.0 634.0,430.0 662.0,436.0" fill="none" stroke="#356634" stroke-width="4.0" stroke-linejoin="round" stroke-linecap="round" /><polyline points="642.0,392.0 651.0,400.0 651.0,430.0" fill="none" stroke="#356634" stroke-width="4.0" stroke-linejoin="round" stroke-linecap="round" /><polyline points="538.8,434.0 556.0,424.7" fill="none" stroke="#356634" stroke-width="4.0" stroke-linejoin="round" stroke-linecap="round" /><polyline points="712.9,468.0 712.9,478.0 716.5,489.0" fill="none" stroke="#356634" stroke-width="4.0" stroke-linejoin="round" stroke-linecap="round" /><polyline points="734.5,468.0 734.5,478.0 729.6,489.0" fill="none" stroke="#356634" stroke-width="4.0" stroke-linejoin="round" stroke-linecap="round" /><polyline points="643.0,218.7 629.0,218.0 619.0,228.0 619.0,298.0 600.0,310.5" fill="none" stroke="#356634" stroke-width="4.0" stroke-linejoin="round" stroke-linecap="round" /><polyline points="606.8,204.0 606.8,209.0 601.0,214.5" fill="none" stroke="#356634" stroke-width="4.0" stroke-linejoin="round" stroke-linecap="round" /><polyline points="742.4,239.1 706.6,279.8 706.6,293.4 698.0,299.5" fill="none" stroke="#356634" stroke-width="4.0" stroke-linejoin="round" stroke-linecap="round" /><polyline points="799.5,334.7 799.5,369.0 855.0,433.0 915.0,433.0 927.7,430.4" fill="none" stroke="#356634" stroke-width="3.6" stroke-linejoin="round" stroke-linecap="round" /><polyline points="806.5,334.7 806.5,362.0 866.0,423.0 915.0,423.0 927.7,417.1" fill="none" stroke="#356634" stroke-width="3.6" stroke-linejoin="round" stroke-linecap="round" /><polyline points="826.0,374.1 826.0,382.0 852.7,408.0 852.7,413.6" fill="none" stroke="#356634" stroke-width="2.6" stroke-linejoin="round" stroke-linecap="round" /><polyline points="839.7,374.1 839.7,382.0 866.1,408.0 866.1,413.6" fill="none" stroke="#356634" stroke-width="2.6" stroke-linejoin="round" stroke-linecap="round" /><polyline points="852.7,374.1 852.7,382.0 871.0,398.0" fill="none" stroke="#356634" stroke-width="2.6" stroke-linejoin="round" stroke-linecap="round" /><polyline points="879.0,374.1 892.0,374.1 905.0,374.1 905.0,386.0" fill="none" stroke="#356634" stroke-width="2.6" stroke-linejoin="round" stroke-linecap="round" /><polyline points="905.0,401.5 905.0,413.6" fill="none" stroke="#356634" stroke-width="2.6" stroke-linejoin="round" stroke-linecap="round" /><polyline points="775.5,334.7 800.2,334.7" fill="none" stroke="#356634" stroke-width="3.0" stroke-linejoin="round" stroke-linecap="round" /><polyline points="905.0,413.6 915.0,420.0 927.7,417.1" fill="none" stroke="#356634" stroke-width="4.0" stroke-linejoin="round" stroke-linecap="round" /><polyline points="503.0,354.5 492.0,360.0 492.0,470.0" fill="none" stroke="#356634" stroke-width="2.6" stroke-linejoin="round" stroke-linecap="round" /><polygon points="914.6,522.5 927.7,489.5 955.4,479.5 960.5,479.5 960.5,522.5" fill="#1a4b1b" /><circle cx="945.3" cy="508.4" r="7.8" fill="#c2c2c2" /><circle cx="652.8" cy="317.0" r="12.0" fill="#1a4b1b" /><circle cx="652.8" cy="317.0" r="7.8" fill="#dcdcdc" /><text x="666.4" y="329.0" font-size="12.2" fill="#f0f0f0" font-family="Liberation Mono"  textLength="76.8" lengthAdjust="spacingAndGlyphs">RM Software</text><text x="666.4" y="342.0" font-size="12.2" fill="#f0f0f0" font-family="Liberation Mono"  textLength="80.7" lengthAdjust="spacingAndGlyphs">V2_Mppt M14</text><text x="666.4" y="355.0" font-size="12.2" fill="#f0f0f0" font-family="Liberation Mono"  textLength="68.9" lengthAdjust="spacingAndGlyphs">PV Charger</text><text x="666.4" y="367.7" font-size="12.2" fill="#f0f0f0" font-family="Liberation Mono"  textLength="50.5" lengthAdjust="spacingAndGlyphs">#V2.02A</text><rect x="683.1" y="221.0" width="14.0" height="14.0" fill="#1a4b1b" /><rect x="685.2" y="223.1" width="9.8" height="9.8" fill="#cd9934" /><circle cx="690.1" cy="228.0" r="2.2" fill="#dcdcdc" /><circle cx="690.1" cy="241.1" r="7.3" fill="#1a4b1b" /><circle cx="690.1" cy="241.1" r="4.8" fill="#cd9934" /><circle cx="690.1" cy="241.1" r="2.2" fill="#dcdcdc" /><circle cx="690.1" cy="254.4" r="7.3" fill="#1a4b1b" /><circle cx="690.1" cy="254.4" r="4.8" fill="#cd9934" /><circle cx="690.1" cy="254.4" r="2.2" fill="#dcdcdc" /><circle cx="690.1" cy="267.5" r="7.3" fill="#1a4b1b" /><circle cx="690.1" cy="267.5" r="4.8" fill="#cd9934" /><circle cx="690.1" cy="267.5" r="2.2" fill="#dcdcdc" /><circle cx="690.1" cy="280.5" r="7.3" fill="#1a4b1b" /><circle cx="690.1" cy="280.5" r="4.8" fill="#cd9934" /><circle cx="690.1" cy="280.5" r="2.2" fill="#dcdcdc" /><rect x="638.0" y="214.5" width="9.9" height="8.4" fill="#a2a2a2" stroke="#bfa477" stroke-width="0.7"/><rect x="638.0" y="229.3" width="9.9" height="8.4" fill="#a2a2a2" stroke="#bfa477" stroke-width="0.7"/><rect x="661.0" y="214.5" width="9.9" height="8.4" fill="#a2a2a2" stroke="#bfa477" stroke-width="0.7"/><rect x="661.0" y="229.3" width="9.9" height="8.4" fill="#a2a2a2" stroke="#bfa477" stroke-width="0.7"/><path d="M638.5,226.5 V224.5 H647.5 V226.5" fill="none" stroke="#f0f0f0" stroke-width="1.1"/><rect x="661.3" y="223.3" width="1.1" height="6.0" fill="#f0f0f0" /><rect x="669.7" y="223.3" width="1.1" height="6.0" fill="#f0f0f0" /><text x="633.4" y="247.0" font-size="10.5" fill="#f0f0f0" font-family="Liberation Mono" >C25</text><text x="633.4" y="255.9" font-size="10.5" fill="#f0f0f0" font-family="Liberation Mono"  textLength="19.0" lengthAdjust="spacingAndGlyphs">0.01</text><text x="656.8" y="247.0" font-size="10.5" fill="#f0f0f0" font-family="Liberation Mono" >R24</text><text x="658.0" y="255.9" font-size="10.5" fill="#f0f0f0" font-family="Liberation Mono"  textLength="14.9" lengthAdjust="spacingAndGlyphs">10k</text><circle cx="754.2" cy="228.0" r="6.5" fill="#1a4b1b" /><circle cx="754.2" cy="228.0" r="4.5" fill="#cd9934" /><circle cx="754.2" cy="228.0" r="2.1" fill="#dcdcdc" /><rect x="747.7" y="234.6" width="13.0" height="13.0" fill="#1a4b1b" /><rect x="749.7" y="236.6" width="9.0" height="9.0" fill="#cd9934" /><circle cx="754.2" cy="241.1" r="2.1" fill="#dcdcdc" /><polygon points="838.0,264.0 926.0,264.0 926.0,284.8 869.3,284.8 860.3,296.7 838.0,296.7" fill="#1a4b1b" /><circle cx="847.2" cy="272.3" r="0.0" fill="#cd9934" /><circle cx="847.2" cy="272.3" r="0.0" fill="#dcdcdc" /><rect x="841.7" y="268.8" width="11.0" height="7.0" fill="#cd9934" /><circle cx="847.2" cy="272.3" r="1.6" fill="#dcdcdc" /><rect x="841.7" y="288.9" width="11.0" height="7.0" fill="#cd9934" /><circle cx="847.2" cy="292.4" r="1.6" fill="#dcdcdc" /><polyline points="852.0,272.3 887.0,272.3" fill="none" stroke="#356634" stroke-width="2.0" stroke-linejoin="round" stroke-linecap="round" /><polyline points="852.0,292.4 862.0,282.0 926.4,284.1" fill="none" stroke="#356634" stroke-width="2.0" stroke-linejoin="round" stroke-linecap="round" /><rect x="887.2" y="266.0" width="8.0" height="10.0" fill="#a2a2a2" stroke="#bfa477" stroke-width="0.7"/><rect x="902.3" y="266.0" width="8.0" height="10.0" fill="#a2a2a2" stroke="#bfa477" stroke-width="0.7"/><text x="890.0" y="263.8" font-size="10.5" fill="#f0f0f0" font-family="Liberation Mono" >R29</text><text x="889.2" y="285.6" font-size="10.5" fill="#f0f0f0" font-family="Liberation Mono" >330</text><rect x="919.9" y="251.0" width="13.0" height="13.0" fill="#1a4b1b" /><rect x="921.8" y="252.9" width="9.2" height="9.2" fill="#cd9934" /><circle cx="926.4" cy="257.5" r="2.1" fill="#dcdcdc" /><circle cx="926.4" cy="271.0" r="7.5" fill="#1a4b1b" /><circle cx="926.4" cy="271.0" r="5.0" fill="#cd9934" /><circle cx="926.4" cy="271.0" r="2.3" fill="#dcdcdc" /><circle cx="926.4" cy="284.1" r="7.5" fill="#1a4b1b" /><circle cx="926.4" cy="284.1" r="5.0" fill="#cd9934" /><circle cx="926.4" cy="284.1" r="2.3" fill="#dcdcdc" /><circle cx="926.4" cy="297.4" r="7.5" fill="#1a4b1b" /><circle cx="926.4" cy="297.4" r="5.0" fill="#cd9934" /><circle cx="926.4" cy="297.4" r="2.3" fill="#dcdcdc" /><circle cx="926.4" cy="310.5" r="7.5" fill="#1a4b1b" /><circle cx="926.4" cy="310.5" r="5.0" fill="#cd9934" /><circle cx="926.4" cy="310.5" r="2.3" fill="#dcdcdc" /><circle cx="795.1" cy="312.0" r="0.1" fill="#1a4b1b" /><circle cx="795.1" cy="312.0" r="4.8" fill="#cd9934" /><circle cx="795.1" cy="312.0" r="2.3" fill="#dcdcdc" /><circle cx="775.5" cy="334.7" r="1.2" fill="#d8d8d8" /><circle cx="800.2" cy="334.7" r="7.3" fill="#1a4b1b" /><circle cx="800.2" cy="334.7" r="4.9" fill="#cd9934" /><circle cx="800.2" cy="334.7" r="2.3" fill="#dcdcdc" /><circle cx="813.3" cy="334.7" r="7.3" fill="#1a4b1b" /><circle cx="813.3" cy="334.7" r="4.9" fill="#cd9934" /><circle cx="813.3" cy="334.7" r="2.3" fill="#dcdcdc" /><circle cx="826.3" cy="334.7" r="7.3" fill="#1a4b1b" /><circle cx="826.3" cy="334.7" r="4.9" fill="#cd9934" /><circle cx="826.3" cy="334.7" r="2.3" fill="#dcdcdc" /><circle cx="839.2" cy="334.7" r="7.3" fill="#1a4b1b" /><circle cx="839.2" cy="334.7" r="4.9" fill="#cd9934" /><circle cx="839.2" cy="334.7" r="2.3" fill="#dcdcdc" /><circle cx="852.2" cy="334.7" r="7.3" fill="#1a4b1b" /><circle cx="852.2" cy="334.7" r="4.9" fill="#cd9934" /><circle cx="852.2" cy="334.7" r="2.3" fill="#dcdcdc" /><circle cx="865.6" cy="334.7" r="7.3" fill="#1a4b1b" /><circle cx="865.6" cy="334.7" r="4.9" fill="#cd9934" /><circle cx="865.6" cy="334.7" r="2.3" fill="#dcdcdc" /><circle cx="878.6" cy="334.7" r="7.3" fill="#1a4b1b" /><circle cx="878.6" cy="334.7" r="4.9" fill="#cd9934" /><circle cx="878.6" cy="334.7" r="2.3" fill="#dcdcdc" /><circle cx="892.0" cy="334.7" r="7.3" fill="#1a4b1b" /><circle cx="892.0" cy="334.7" r="4.9" fill="#cd9934" /><circle cx="892.0" cy="334.7" r="2.3" fill="#dcdcdc" /><rect x="897.7" y="327.4" width="14.6" height="14.6" fill="#1a4b1b" /><rect x="900.2" y="329.9" width="9.6" height="9.6" fill="#cd9934" /><circle cx="905.0" cy="334.7" r="2.2" fill="#dcdcdc" /><rect x="819.7" y="366.6" width="12.2" height="15.0" rx="6.1" fill="#1a4b1b"/><rect x="822.2" y="369.1" width="7.2" height="10.0" rx="3.6" fill="#cd9934"/><circle cx="825.8" cy="374.1" r="2.0" fill="#dcdcdc" /><rect x="833.6" y="366.6" width="12.2" height="15.0" rx="6.1" fill="#1a4b1b"/><rect x="836.1" y="369.1" width="7.2" height="10.0" rx="3.6" fill="#cd9934"/><circle cx="839.7" cy="374.1" r="2.0" fill="#dcdcdc" /><rect x="846.6" y="366.6" width="12.2" height="15.0" rx="6.1" fill="#1a4b1b"/><rect x="849.1" y="369.1" width="7.2" height="10.0" rx="3.6" fill="#cd9934"/><circle cx="852.7" cy="374.1" r="2.0" fill="#dcdcdc" /><rect x="860.0" y="366.6" width="12.2" height="15.0" rx="6.1" fill="#1a4b1b"/><rect x="862.5" y="369.1" width="7.2" height="10.0" rx="3.6" fill="#cd9934"/><circle cx="866.1" cy="374.1" r="2.0" fill="#dcdcdc" /><rect x="873.0" y="366.6" width="12.2" height="15.0" rx="6.1" fill="#1a4b1b"/><rect x="875.5" y="369.1" width="7.2" height="10.0" rx="3.6" fill="#cd9934"/><circle cx="879.1" cy="374.1" r="2.0" fill="#dcdcdc" /><rect x="885.9" y="366.6" width="12.2" height="15.0" rx="6.1" fill="#1a4b1b"/><rect x="888.4" y="369.1" width="7.2" height="10.0" rx="3.6" fill="#cd9934"/><circle cx="892.0" cy="374.1" r="2.0" fill="#dcdcdc" /><rect x="898.9" y="366.6" width="12.2" height="15.0" rx="6.1" fill="#1a4b1b"/><rect x="901.4" y="369.1" width="7.2" height="10.0" rx="3.6" fill="#cd9934"/><circle cx="905.0" cy="374.1" r="2.0" fill="#dcdcdc" /><rect x="819.7" y="406.1" width="12.2" height="15.0" rx="6.1" fill="#1a4b1b"/><rect x="822.2" y="408.6" width="7.2" height="10.0" rx="3.6" fill="#cd9934"/><circle cx="825.8" cy="413.6" r="2.0" fill="#dcdcdc" /><rect x="833.6" y="406.1" width="12.2" height="15.0" rx="6.1" fill="#1a4b1b"/><rect x="836.1" y="408.6" width="7.2" height="10.0" rx="3.6" fill="#cd9934"/><circle cx="839.7" cy="413.6" r="2.0" fill="#dcdcdc" /><rect x="846.6" y="406.1" width="12.2" height="15.0" rx="6.1" fill="#1a4b1b"/><rect x="849.1" y="408.6" width="7.2" height="10.0" rx="3.6" fill="#cd9934"/><circle cx="852.7" cy="413.6" r="2.0" fill="#dcdcdc" /><rect x="860.0" y="406.1" width="12.2" height="15.0" rx="6.1" fill="#1a4b1b"/><rect x="862.5" y="408.6" width="7.2" height="10.0" rx="3.6" fill="#cd9934"/><circle cx="866.1" cy="413.6" r="2.0" fill="#dcdcdc" /><rect x="873.0" y="406.1" width="12.2" height="15.0" rx="6.1" fill="#1a4b1b"/><rect x="875.5" y="408.6" width="7.2" height="10.0" rx="3.6" fill="#cd9934"/><circle cx="879.1" cy="413.6" r="2.0" fill="#dcdcdc" /><rect x="885.9" y="406.1" width="12.2" height="15.0" rx="6.1" fill="#1a4b1b"/><rect x="888.4" y="408.6" width="7.2" height="10.0" rx="3.6" fill="#cd9934"/><circle cx="892.0" cy="413.6" r="2.0" fill="#dcdcdc" /><rect x="898.5" y="406.1" width="13.0" height="15.0" fill="#1a4b1b" /><rect x="901.0" y="408.6" width="8.0" height="10.0" fill="#cd9934" /><circle cx="905.0" cy="413.6" r="2.0" fill="#dcdcdc" /><rect x="900.5" y="382.2" width="9.0" height="9.0" fill="#a2a2a2" stroke="#bfa477" stroke-width="0.7"/><rect x="900.5" y="397.0" width="9.0" height="9.0" fill="#a2a2a2" stroke="#bfa477" stroke-width="0.7"/><path d="M900.5,391.5 V396.5 M909.5,391.5 V396.5" stroke="#f0f0f0" stroke-width="1.1"/><text x="911.3" y="391.8" font-size="10.5" fill="#f0f0f0" font-family="Liberation Mono" >C28</text><text x="913.0" y="402.0" font-size="10.5" fill="#f0f0f0" font-family="Liberation Mono"  textLength="12.3" lengthAdjust="spacingAndGlyphs">0.1</text><circle cx="927.7" cy="417.1" r="7.5" fill="#1a4b1b" /><circle cx="927.7" cy="417.1" r="5.0" fill="#cd9934" /><circle cx="927.7" cy="417.1" r="2.3" fill="#dcdcdc" /><circle cx="927.7" cy="430.4" r="7.5" fill="#1a4b1b" /><circle cx="927.7" cy="430.4" r="5.0" fill="#cd9934" /><circle cx="927.7" cy="430.4" r="2.3" fill="#dcdcdc" /><circle cx="927.7" cy="443.5" r="7.5" fill="#1a4b1b" /><circle cx="927.7" cy="443.5" r="5.0" fill="#cd9934" /><circle cx="927.7" cy="443.5" r="2.3" fill="#dcdcdc" /><rect x="920.7" y="449.8" width="14.0" height="14.0" fill="#1a4b1b" /><rect x="923.1" y="452.2" width="9.2" height="9.2" fill="#cd9934" /><circle cx="927.7" cy="456.8" r="2.1" fill="#dcdcdc" /><rect x="806.0" y="458.0" width="45.0" height="20.0" fill="#1a4b1b" /><circle cx="818.3" cy="467.7" r="7.5" fill="#1a4b1b" /><circle cx="818.3" cy="467.7" r="7.3" fill="#1a4b1b" /><circle cx="818.3" cy="467.7" r="4.9" fill="#cd9934" /><circle cx="818.3" cy="467.7" r="2.3" fill="#dcdcdc" /><circle cx="830.9" cy="467.7" r="7.3" fill="#1a4b1b" /><circle cx="830.9" cy="467.7" r="4.9" fill="#cd9934" /><circle cx="830.9" cy="467.7" r="2.3" fill="#dcdcdc" /><rect x="839.4" y="462.9" width="9.6" height="9.6" fill="#cd9934" /><circle cx="844.2" cy="467.7" r="2.2" fill="#dcdcdc" /><circle cx="789.9" cy="502.9" r="8.0" fill="#1a4b1b" /><rect x="790.0" y="494.9" width="30.0" height="16.0" fill="#1a4b1b" /><circle cx="789.9" cy="502.9" r="7.3" fill="#1a4b1b" /><circle cx="789.9" cy="502.9" r="4.8" fill="#cd9934" /><circle cx="789.9" cy="502.9" r="2.3" fill="#dcdcdc" /><circle cx="803.2" cy="502.9" r="7.3" fill="#1a4b1b" /><circle cx="803.2" cy="502.9" r="4.8" fill="#cd9934" /><circle cx="803.2" cy="502.9" r="2.3" fill="#dcdcdc" /><rect x="811.5" y="498.1" width="9.6" height="9.6" fill="#cd9934" /><circle cx="816.3" cy="502.9" r="2.2" fill="#dcdcdc" /><rect x="835.0" y="493.0" width="38.0" height="19.8" fill="#1a4b1b" /><circle cx="871.1" cy="502.9" r="8.0" fill="#1a4b1b" /><rect x="839.4" y="498.1" width="9.6" height="9.6" fill="#cd9934" /><circle cx="844.2" cy="502.9" r="2.2" fill="#dcdcdc" /><circle cx="857.8" cy="502.9" r="7.3" fill="#1a4b1b" /><circle cx="857.8" cy="502.9" r="4.8" fill="#cd9934" /><circle cx="857.8" cy="502.9" r="2.3" fill="#dcdcdc" /><circle cx="871.1" cy="502.9" r="0.1" fill="#1a4b1b" /><circle cx="871.1" cy="502.9" r="4.8" fill="#cd9934" /><circle cx="871.1" cy="502.9" r="2.3" fill="#dcdcdc" /><polyline points="705.0,489.0 705.0,470.0 712.9,461.0" fill="none" stroke="#1a4b1b" stroke-width="6.0" stroke-linejoin="round" stroke-linecap="round" /><polyline points="740.0,489.0 740.0,470.0 734.5,461.0" fill="none" stroke="#1a4b1b" stroke-width="6.0" stroke-linejoin="round" stroke-linecap="round" /><rect x="708.4" y="449.3" width="9.0" height="9.0" fill="#a2a2a2" stroke="#bfa477" stroke-width="0.7"/><rect x="708.4" y="463.6" width="9.0" height="9.0" fill="#a2a2a2" stroke="#bfa477" stroke-width="0.7"/><rect x="730.0" y="449.3" width="9.0" height="9.0" fill="#a2a2a2" stroke="#bfa477" stroke-width="0.7"/><rect x="730.0" y="463.6" width="9.0" height="9.0" fill="#a2a2a2" stroke="#bfa477" stroke-width="0.7"/><rect x="707.8" y="458.6" width="1.1" height="4.5" fill="#f0f0f0" /><rect x="717.0" y="458.6" width="1.1" height="4.5" fill="#f0f0f0" /><rect x="729.5" y="458.6" width="1.1" height="4.5" fill="#f0f0f0" /><rect x="738.8" y="458.6" width="1.1" height="4.5" fill="#f0f0f0" /><text x="692.0" y="455.5" font-size="10.5" fill="#f0f0f0" font-family="Liberation Mono" >R7</text><text x="685.8" y="464.8" font-size="10.5" fill="#f0f0f0" font-family="Liberation Mono"  textLength="21.0" lengthAdjust="spacingAndGlyphs">100k</text><text x="741.6" y="457.4" font-size="10.5" fill="#f0f0f0" font-family="Liberation Mono" >R27</text><text x="741.6" y="466.9" font-size="10.5" fill="#f0f0f0" font-family="Liberation Mono"  textLength="21.0" lengthAdjust="spacingAndGlyphs">100k</text><circle cx="703.4" cy="489.0" r="7.3" fill="#1a4b1b" /><circle cx="703.4" cy="489.0" r="4.9" fill="#cd9934" /><circle cx="703.4" cy="489.0" r="2.3" fill="#dcdcdc" /><circle cx="716.5" cy="489.0" r="7.3" fill="#1a4b1b" /><circle cx="716.5" cy="489.0" r="4.9" fill="#cd9934" /><circle cx="716.5" cy="489.0" r="2.3" fill="#dcdcdc" /><circle cx="729.6" cy="489.0" r="7.3" fill="#1a4b1b" /><circle cx="729.6" cy="489.0" r="4.9" fill="#cd9934" /><circle cx="729.6" cy="489.0" r="2.3" fill="#dcdcdc" /><circle cx="742.8" cy="489.0" r="7.3" fill="#1a4b1b" /><circle cx="742.8" cy="489.0" r="4.9" fill="#cd9934" /><circle cx="742.8" cy="489.0" r="2.3" fill="#dcdcdc" /><rect x="750.9" y="484.0" width="10.0" height="10.0" fill="#cd9934" /><circle cx="755.9" cy="489.0" r="2.2" fill="#dcdcdc" /><circle cx="525.7" cy="471.1" r="7.5" fill="#1a4b1b" /><circle cx="525.7" cy="471.1" r="5.0" fill="#cd9934" /><circle cx="525.7" cy="471.1" r="2.3" fill="#dcdcdc" /><circle cx="525.7" cy="484.4" r="7.5" fill="#1a4b1b" /><circle cx="525.7" cy="484.4" r="5.0" fill="#cd9934" /><circle cx="525.7" cy="484.4" r="2.3" fill="#dcdcdc" /><rect x="520.7" y="492.5" width="10.0" height="10.0" fill="#cd9934" /><circle cx="525.7" cy="497.5" r="2.2" fill="#dcdcdc" /><circle cx="555.6" cy="471.1" r="7.5" fill="#1a4b1b" /><circle cx="555.6" cy="471.1" r="5.0" fill="#cd9934" /><circle cx="555.6" cy="471.1" r="2.3" fill="#dcdcdc" /><circle cx="555.6" cy="484.4" r="7.5" fill="#1a4b1b" /><circle cx="555.6" cy="484.4" r="5.0" fill="#cd9934" /><circle cx="555.6" cy="484.4" r="2.3" fill="#dcdcdc" /><rect x="550.6" y="492.5" width="10.0" height="10.0" fill="#cd9934" /><circle cx="555.6" cy="497.5" r="2.2" fill="#dcdcdc" /><circle cx="585.3" cy="471.1" r="7.5" fill="#1a4b1b" /><circle cx="585.3" cy="471.1" r="5.0" fill="#cd9934" /><circle cx="585.3" cy="471.1" r="2.3" fill="#dcdcdc" /><circle cx="585.3" cy="484.4" r="7.5" fill="#1a4b1b" /><circle cx="585.3" cy="484.4" r="5.0" fill="#cd9934" /><circle cx="585.3" cy="484.4" r="2.3" fill="#dcdcdc" /><rect x="580.3" y="492.5" width="10.0" height="10.0" fill="#cd9934" /><circle cx="585.3" cy="497.5" r="2.2" fill="#dcdcdc" /><circle cx="614.7" cy="471.1" r="7.5" fill="#1a4b1b" /><circle cx="614.7" cy="471.1" r="5.0" fill="#cd9934" /><circle cx="614.7" cy="471.1" r="2.3" fill="#dcdcdc" /><circle cx="614.7" cy="484.4" r="7.5" fill="#1a4b1b" /><circle cx="614.7" cy="484.4" r="5.0" fill="#cd9934" /><circle cx="614.7" cy="484.4" r="2.3" fill="#dcdcdc" /><rect x="609.7" y="492.5" width="10.0" height="10.0" fill="#cd9934" /><circle cx="614.7" cy="497.5" r="2.2" fill="#dcdcdc" /><circle cx="643.8" cy="471.1" r="7.5" fill="#1a4b1b" /><circle cx="643.8" cy="471.1" r="5.0" fill="#cd9934" /><circle cx="643.8" cy="471.1" r="2.3" fill="#dcdcdc" /><circle cx="643.8" cy="484.4" r="7.5" fill="#1a4b1b" /><circle cx="643.8" cy="484.4" r="5.0" fill="#cd9934" /><circle cx="643.8" cy="484.4" r="2.3" fill="#dcdcdc" /><rect x="638.8" y="492.5" width="10.0" height="10.0" fill="#cd9934" /><circle cx="643.8" cy="497.5" r="2.2" fill="#dcdcdc" /><circle cx="669.5" cy="505.8" r="0.1" fill="#1a4b1b" /><circle cx="669.5" cy="505.8" r="4.9" fill="#cd9934" /><circle cx="669.5" cy="505.8" r="2.3" fill="#dcdcdc" /><circle cx="502.6" cy="341.0" r="7.5" fill="#1a4b1b" /><circle cx="502.6" cy="341.0" r="5.0" fill="#cd9934" /><circle cx="502.6" cy="341.0" r="2.3" fill="#dcdcdc" /><circle cx="502.6" cy="354.5" r="7.5" fill="#1a4b1b" /><circle cx="502.6" cy="354.5" r="5.0" fill="#cd9934" /><circle cx="502.6" cy="354.5" r="2.3" fill="#dcdcdc" /><circle cx="503.1" cy="410.3" r="7.5" fill="#1a4b1b" /><circle cx="503.1" cy="410.3" r="5.0" fill="#cd9934" /><circle cx="503.1" cy="410.3" r="2.3" fill="#dcdcdc" /><circle cx="503.1" cy="423.6" r="7.5" fill="#1a4b1b" /><circle cx="503.1" cy="423.6" r="5.0" fill="#cd9934" /><circle cx="503.1" cy="423.6" r="2.3" fill="#dcdcdc" /><rect x="514.2" y="364.1" width="17.0" height="17.0" fill="#1a4b1b" /><rect x="516.7" y="343.4" width="12.0" height="12.0" fill="#cd9934" /><circle cx="522.7" cy="349.4" r="2.2" fill="#dcdcdc" /><rect x="516.7" y="366.6" width="12.0" height="12.0" fill="#cd9934" /><circle cx="522.7" cy="372.6" r="2.2" fill="#dcdcdc" /><rect x="512.7" y="386.5" width="11.0" height="11.0" fill="#cd9934" /><circle cx="518.2" cy="392.0" r="2.2" fill="#dcdcdc" /><rect x="534.5" y="385.9" width="9.5" height="9.5" fill="#cd9934" /><circle cx="539.2" cy="390.6" r="2.2" fill="#dcdcdc" /><rect x="534.0" y="429.4" width="9.5" height="9.5" fill="#cd9934" /><circle cx="538.8" cy="434.2" r="2.2" fill="#dcdcdc" /><circle cx="538.8" cy="404.0" r="0.1" fill="#1a4b1b" /><circle cx="538.8" cy="404.0" r="4.8" fill="#cd9934" /><circle cx="538.8" cy="404.0" r="2.2" fill="#dcdcdc" /><circle cx="538.8" cy="421.1" r="0.1" fill="#1a4b1b" /><circle cx="538.8" cy="421.1" r="4.8" fill="#cd9934" /><circle cx="538.8" cy="421.1" r="2.2" fill="#dcdcdc" /><rect x="541" y="327.5" width="57" height="39.5" rx="6" fill="none" stroke="#1a4b1b" stroke-width="4.5"/><polyline points="598.0,334.5 607.0,334.5" fill="none" stroke="#1a4b1b" stroke-width="8.0" stroke-linejoin="round" stroke-linecap="round" /><rect x="580.4" y="353.6" width="8.4" height="9.6" fill="#a2a2a2" stroke="#bfa477" stroke-width="0.7"/><rect x="594.5" y="353.6" width="8.4" height="9.6" fill="#a2a2a2" stroke="#bfa477" stroke-width="0.7"/><path d="M590,354 H588.5 V362.5 H590" fill="none" stroke="#f0f0f0" stroke-width="1.1"/><text x="605.6" y="357.5" font-size="10.5" fill="#f0f0f0" font-family="Liberation Mono" >C26</text><text x="606.0" y="368.5" font-size="10.5" fill="#f0f0f0" font-family="Liberation Mono"  textLength="12.3" lengthAdjust="spacingAndGlyphs">0.1</text><rect x="609.2" y="396.5" width="9.0" height="9.0" fill="#a2a2a2" stroke="#bfa477" stroke-width="0.7"/><rect x="609.2" y="410.1" width="9.0" height="9.0" fill="#a2a2a2" stroke="#bfa477" stroke-width="0.7"/><path d="M609.5,405.5 V408.5 H618 V405.5" fill="none" stroke="#f0f0f0" stroke-width="1.1"/><text x="589.0" y="403.5" font-size="10.5" fill="#f0f0f0" font-family="Liberation Mono" >C29</text><text x="592.0" y="413.0" font-size="10.5" fill="#f0f0f0" font-family="Liberation Mono"  textLength="12.3" lengthAdjust="spacingAndGlyphs">0.1</text><circle cx="25.0" cy="410.0" r="0.9" fill="#d8d8d8" /><circle cx="32.7" cy="410.0" r="0.9" fill="#d8d8d8" /><circle cx="40.4" cy="410.0" r="0.9" fill="#d8d8d8" /><circle cx="48.1" cy="410.0" r="0.9" fill="#d8d8d8" /><circle cx="55.9" cy="410.0" r="0.9" fill="#d8d8d8" /><circle cx="63.6" cy="410.0" r="0.9" fill="#d8d8d8" /><circle cx="71.3" cy="410.0" r="0.9" fill="#d8d8d8" /><circle cx="79.0" cy="410.0" r="0.9" fill="#d8d8d8" /><circle cx="86.7" cy="410.0" r="0.9" fill="#d8d8d8" /><circle cx="94.5" cy="410.0" r="0.9" fill="#d8d8d8" /><circle cx="102.0" cy="410.0" r="0.9" fill="#d8d8d8" /><circle cx="109.4" cy="410.0" r="0.9" fill="#d8d8d8" /><circle cx="116.9" cy="410.0" r="0.9" fill="#d8d8d8" /><circle cx="124.3" cy="410.0" r="0.9" fill="#d8d8d8" /><circle cx="131.8" cy="410.0" r="0.9" fill="#d8d8d8" /><circle cx="139.2" cy="410.0" r="0.9" fill="#d8d8d8" /><circle cx="146.7" cy="410.0" r="0.9" fill="#d8d8d8" /><circle cx="154.2" cy="410.0" r="0.9" fill="#d8d8d8" /><circle cx="161.6" cy="410.0" r="0.9" fill="#d8d8d8" /><circle cx="169.1" cy="410.0" r="0.9" fill="#d8d8d8" /><circle cx="176.5" cy="410.0" r="0.9" fill="#d8d8d8" /><circle cx="184.0" cy="410.0" r="0.9" fill="#d8d8d8" /><circle cx="19.9" cy="414.8" r="0.9" fill="#d8d8d8" /><circle cx="19.9" cy="422.6" r="0.9" fill="#d8d8d8" /><circle cx="19.9" cy="430.3" r="0.9" fill="#d8d8d8" /><circle cx="19.9" cy="438.1" r="0.9" fill="#d8d8d8" /><circle cx="19.9" cy="445.9" r="0.9" fill="#d8d8d8" /><circle cx="19.9" cy="453.6" r="0.9" fill="#d8d8d8" /><circle cx="19.9" cy="461.4" r="0.9" fill="#d8d8d8" /><circle cx="27.6" cy="466.9" r="0.9" fill="#d8d8d8" /><circle cx="35.2" cy="471.9" r="0.9" fill="#d8d8d8" /><circle cx="44.0" cy="476.9" r="0.9" fill="#d8d8d8" /><circle cx="51.0" cy="482.0" r="0.9" fill="#d8d8d8" /><circle cx="59.0" cy="487.0" r="0.9" fill="#d8d8d8" /><circle cx="64.0" cy="492.0" r="0.9" fill="#d8d8d8" /><circle cx="71.6" cy="495.0" r="0.9" fill="#d8d8d8" /><circle cx="81.0" cy="495.0" r="0.9" fill="#d8d8d8" /><circle cx="90.5" cy="495.0" r="0.9" fill="#d8d8d8" /><circle cx="98.0" cy="495.0" r="0.9" fill="#d8d8d8" /><circle cx="105.8" cy="495.0" r="0.9" fill="#d8d8d8" /><circle cx="113.5" cy="495.0" r="0.9" fill="#d8d8d8" /><circle cx="121.3" cy="495.0" r="0.9" fill="#d8d8d8" /><circle cx="129.1" cy="495.0" r="0.9" fill="#d8d8d8" /><circle cx="136.9" cy="495.0" r="0.9" fill="#d8d8d8" /><circle cx="144.6" cy="495.0" r="0.9" fill="#d8d8d8" /><circle cx="152.4" cy="495.0" r="0.9" fill="#d8d8d8" /><circle cx="160.2" cy="495.0" r="0.9" fill="#d8d8d8" /><circle cx="168.0" cy="495.0" r="0.9" fill="#d8d8d8" /><circle cx="175.7" cy="495.0" r="0.9" fill="#d8d8d8" /><circle cx="183.5" cy="495.0" r="0.9" fill="#d8d8d8" /><circle cx="185.6" cy="425.4" r="0.9" fill="#d8d8d8" /><circle cx="185.6" cy="433.2" r="0.9" fill="#d8d8d8" /><circle cx="185.6" cy="441.1" r="0.9" fill="#d8d8d8" /><circle cx="185.6" cy="448.9" r="0.9" fill="#d8d8d8" /><circle cx="185.6" cy="456.8" r="0.9" fill="#d8d8d8" /><circle cx="185.6" cy="464.6" r="0.9" fill="#d8d8d8" /><circle cx="185.6" cy="472.5" r="0.9" fill="#d8d8d8" /><circle cx="185.6" cy="480.3" r="0.9" fill="#d8d8d8" /><circle cx="185.6" cy="488.2" r="0.9" fill="#d8d8d8" /><circle cx="55.8" cy="425.4" r="8.0" fill="#cd9934" /><circle cx="55.8" cy="425.4" r="3.0" fill="#dcdcdc" /><circle cx="82.2" cy="425.4" r="8.0" fill="#cd9934" /><circle cx="82.2" cy="425.4" r="3.0" fill="#dcdcdc" /><circle cx="55.8" cy="451.3" r="8.0" fill="#cd9934" /><circle cx="55.8" cy="451.3" r="3.0" fill="#dcdcdc" /><circle cx="82.2" cy="451.3" r="8.0" fill="#cd9934" /><circle cx="82.2" cy="451.3" r="3.0" fill="#dcdcdc" /><circle cx="55.8" cy="476.9" r="8.0" fill="#cd9934" /><circle cx="55.8" cy="476.9" r="3.0" fill="#dcdcdc" /><circle cx="82.2" cy="476.9" r="8.0" fill="#cd9934" /><circle cx="82.2" cy="476.9" r="3.0" fill="#dcdcdc" /><rect x="110.0" y="423.1" width="14.0" height="7.0" rx="3.5" fill="#dcdcdc"/><rect x="110.0" y="474.7" width="14.0" height="7.0" rx="3.5" fill="#dcdcdc"/><rect x="130.7" y="423.1" width="14.0" height="7.0" rx="3.5" fill="#dcdcdc"/><rect x="130.7" y="474.7" width="14.0" height="7.0" rx="3.5" fill="#dcdcdc"/><rect x="151.3" y="423.1" width="14.0" height="7.0" rx="3.5" fill="#dcdcdc"/><rect x="151.3" y="474.7" width="14.0" height="7.0" rx="3.5" fill="#dcdcdc"/><circle cx="25.1" cy="508.3" r="7.8" fill="#c2c2c2" /><polyline points="154.3,499.0 154.3,506.0" fill="none" stroke="#356634" stroke-width="2.5" stroke-linejoin="round" stroke-linecap="round" /><rect x="149.1" y="506.0" width="10.5" height="10.0" fill="#cd9934" /><circle cx="154.3" cy="511.0" r="1.8" fill="#dcdcdc" /><rect x="180.2" y="506.0" width="10.5" height="10.0" fill="#cd9934" /><circle cx="185.4" cy="511.0" r="1.8" fill="#dcdcdc" /><rect x="200.1" y="504.1" width="9.5" height="13.7" fill="#cd9934" /><circle cx="204.8" cy="511.0" r="1.8" fill="#dcdcdc" /><rect x="223.1" y="504.1" width="9.5" height="13.7" fill="#cd9934" /><circle cx="227.8" cy="511.0" r="1.8" fill="#dcdcdc" /><rect x="244.2" y="504.1" width="9.5" height="13.7" fill="#cd9934" /><circle cx="249.0" cy="511.0" r="1.8" fill="#dcdcdc" /><rect x="266.9" y="504.1" width="9.5" height="13.7" fill="#cd9934" /><circle cx="271.7" cy="511.0" r="1.8" fill="#dcdcdc" /><rect x="205.3" y="464.1" width="7.5" height="10.5" fill="#cd9934" /><circle cx="209.1" cy="469.3" r="1.8" fill="#dcdcdc" /><rect x="225.2" y="464.1" width="7.5" height="10.5" fill="#cd9934" /><circle cx="229.0" cy="469.3" r="1.8" fill="#dcdcdc" /><rect x="180.3" y="393.2" width="9.3" height="2.4" fill="#a2a2a2" /><rect x="207.8" y="393.2" width="10.4" height="2.4" fill="#a2a2a2" /><rect x="180.3" y="399.8" width="9.3" height="2.4" fill="#a2a2a2" /><rect x="207.8" y="399.8" width="10.4" height="2.4" fill="#a2a2a2" /><rect x="180.3" y="406.3" width="9.3" height="2.4" fill="#a2a2a2" /><rect x="207.8" y="406.3" width="10.4" height="2.4" fill="#a2a2a2" /><rect x="180.3" y="412.9" width="9.3" height="2.4" fill="#a2a2a2" /><rect x="207.8" y="412.9" width="10.4" height="2.4" fill="#a2a2a2" /><path d="M191.9,391 H196.8 A2,2 0 0 0 200.8,391 H205.6 V417.3 H191.9 Z" fill="#1a4b1b" stroke="#f0f0f0" stroke-width="1.2"/><text x="194.7" y="388.4" font-size="10.5" fill="#f0f0f0" font-family="Liberation Mono"  textLength="15.6" lengthAdjust="spacingAndGlyphs">CS1</text><text x="194.8" y="427.9" font-size="10.8" fill="#f0f0f0" font-family="Liberation Mono" >ACS723 40U</text><polyline points="218.0,407.5 228.0,407.5 236.0,400.0 246.0,400.0" fill="none" stroke="#356634" stroke-width="2.4" stroke-linejoin="round" stroke-linecap="round" /><rect x="227.3" y="390.5" width="8.0" height="9.0" fill="#a2a2a2" stroke="#bfa477" stroke-width="0.7"/><rect x="241.9" y="390.5" width="8.0" height="9.0" fill="#a2a2a2" stroke="#bfa477" stroke-width="0.7"/><path d="M239.5,391 H237.6 V399 H239.5" fill="none" stroke="#f0f0f0" stroke-width="1.1"/><text x="251.9" y="397.2" font-size="10.5" fill="#f0f0f0" font-family="Liberation Mono" >C27</text><text x="254.7" y="406.6" font-size="10.5" fill="#f0f0f0" font-family="Liberation Mono"  textLength="12.3" lengthAdjust="spacingAndGlyphs">0.1</text><circle cx="218.0" cy="401.0" r="0.9" fill="#d8d8d8" /><circle cx="225.0" cy="407.0" r="0.9" fill="#d8d8d8" /><circle cx="569.5" cy="311.0" r="1.0" fill="#d8d8d8" /><circle cx="577.0" cy="311.0" r="1.0" fill="#d8d8d8" /><circle cx="583.5" cy="311.0" r="1.0" fill="#d8d8d8" /><circle cx="598.0" cy="310.0" r="1.0" fill="#d8d8d8" /><circle cx="607.0" cy="334.5" r="1.0" fill="#d8d8d8" /><circle cx="562.0" cy="340.0" r="1.0" fill="#d8d8d8" /><circle cx="567.0" cy="340.0" r="1.0" fill="#d8d8d8" /><circle cx="573.0" cy="340.0" r="1.0" fill="#d8d8d8" /><circle cx="562.0" cy="346.0" r="1.0" fill="#d8d8d8" /><circle cx="567.0" cy="346.0" r="1.0" fill="#d8d8d8" /><circle cx="573.0" cy="346.0" r="1.0" fill="#d8d8d8" /><circle cx="522.0" cy="337.5" r="1.0" fill="#d8d8d8" /><circle cx="526.0" cy="337.5" r="1.0" fill="#d8d8d8" /><circle cx="529.5" cy="337.5" r="1.0" fill="#d8d8d8" /><circle cx="583.0" cy="370.0" r="1.0" fill="#d8d8d8" /><circle cx="577.0" cy="381.0" r="1.0" fill="#d8d8d8" /><circle cx="580.5" cy="384.5" r="1.0" fill="#d8d8d8" /><circle cx="517.0" cy="401.0" r="1.0" fill="#d8d8d8" /><circle cx="521.0" cy="401.0" r="1.0" fill="#d8d8d8" /><circle cx="554.5" cy="401.0" r="1.0" fill="#d8d8d8" /><circle cx="564.5" cy="401.0" r="1.0" fill="#d8d8d8" /><circle cx="694.5" cy="381.0" r="1.0" fill="#d8d8d8" /><circle cx="772.0" cy="382.0" r="1.0" fill="#d8d8d8" /><circle cx="714.5" cy="418.5" r="1.0" fill="#d8d8d8" /><circle cx="739.5" cy="418.5" r="1.0" fill="#d8d8d8" /><circle cx="794.5" cy="443.5" r="1.0" fill="#d8d8d8" /><circle cx="799.5" cy="413.5" r="1.0" fill="#d8d8d8" /><circle cx="807.0" cy="382.0" r="1.0" fill="#d8d8d8" /><circle cx="874.5" cy="483.5" r="1.0" fill="#d8d8d8" /><circle cx="937.0" cy="476.0" r="1.0" fill="#d8d8d8" /><circle cx="757.0" cy="292.0" r="1.0" fill="#d8d8d8" /><circle cx="787.0" cy="292.0" r="1.0" fill="#d8d8d8" /><circle cx="792.0" cy="298.5" r="1.0" fill="#d8d8d8" /><circle cx="712.0" cy="292.0" r="1.0" fill="#d8d8d8" /><circle cx="727.0" cy="348.5" r="1.0" fill="#d8d8d8" /><circle cx="743.0" cy="347.0" r="1.0" fill="#d8d8d8" /><circle cx="688.5" cy="302.0" r="1.0" fill="#d8d8d8" /><circle cx="699.5" cy="298.5" r="1.0" fill="#d8d8d8" /><circle cx="887.0" cy="308.5" r="1.0" fill="#d8d8d8" /><circle cx="657.0" cy="378.5" r="1.0" fill="#d8d8d8" /><circle cx="662.0" cy="378.5" r="1.0" fill="#d8d8d8" /><circle cx="702.0" cy="308.5" r="1.0" fill="#d8d8d8" /><circle cx="640.0" cy="435.0" r="1.0" fill="#d8d8d8" /><circle cx="655.0" cy="431.0" r="1.0" fill="#d8d8d8" /><circle cx="634.0" cy="392.0" r="1.0" fill="#d8d8d8" /><circle cx="642.0" cy="392.0" r="1.0" fill="#d8d8d8" /><circle cx="646.0" cy="425.0" r="1.0" fill="#d8d8d8" /><circle cx="653.0" cy="425.0" r="1.0" fill="#d8d8d8" /><circle cx="613.7" cy="420.0" r="1.0" fill="#d8d8d8" /><circle cx="557.0" cy="424.0" r="1.0" fill="#d8d8d8" /><circle cx="554.0" cy="434.0" r="1.0" fill="#d8d8d8" /><circle cx="593.0" cy="430.0" r="1.0" fill="#d8d8d8" /><circle cx="672.7" cy="433.5" r="1.0" fill="#d8d8d8" /><circle cx="754.2" cy="250.0" r="1.0" fill="#d8d8d8" /><circle cx="729.7" cy="290.0" r="1.0" fill="#d8d8d8" /><circle cx="800.0" cy="380.0" r="1.0" fill="#d8d8d8" /><circle cx="892.0" cy="395.0" r="1.0" fill="#d8d8d8" /><circle cx="860.0" cy="420.0" r="1.0" fill="#d8d8d8" /><circle cx="890.0" cy="385.0" r="1.0" fill="#d8d8d8" /><circle cx="814.0" cy="368.0" r="1.0" fill="#d8d8d8" /><circle cx="793.0" cy="398.0" r="1.0" fill="#d8d8d8" /></svg></body></html>
